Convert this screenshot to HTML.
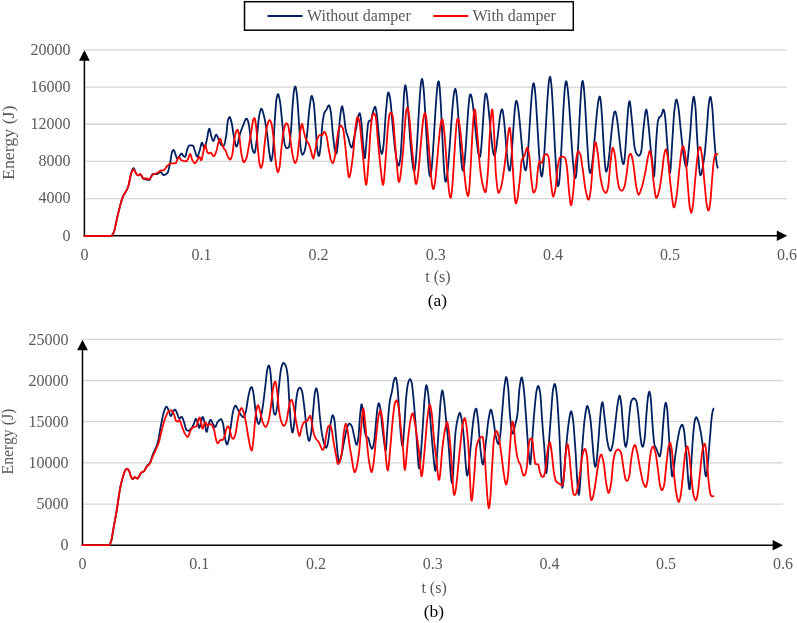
<!DOCTYPE html>
<html lang="en"><head><meta charset="utf-8"><title>Energy vs time</title>
<style>html,body{margin:0;padding:0;background:#fff;overflow:hidden}svg{display:block}text{font-family:"Liberation Serif","Times New Roman",serif;fill:#595959}.t{font-size:16px}.ax{font-size:16px}.cap{font-size:17.4px;fill:#000}.c{fill:none;stroke-width:1.8;stroke-linejoin:round;stroke-linecap:butt}</style></head><body>
<svg width="797" height="623" viewBox="0 0 797 623">
<rect width="797" height="623" fill="#fff"/>
<line x1="84.4" y1="49.90" x2="786.9" y2="49.90" stroke="#d5d5d5" stroke-width="1.3"/>
<line x1="84.4" y1="87.07" x2="786.9" y2="87.07" stroke="#d5d5d5" stroke-width="1.3"/>
<line x1="84.4" y1="124.24" x2="786.9" y2="124.24" stroke="#d5d5d5" stroke-width="1.3"/>
<line x1="84.4" y1="161.41" x2="786.9" y2="161.41" stroke="#d5d5d5" stroke-width="1.3"/>
<line x1="84.4" y1="198.58" x2="786.9" y2="198.58" stroke="#d5d5d5" stroke-width="1.3"/>
<line x1="84.4" y1="55.9" x2="84.4" y2="236.35" stroke="#000" stroke-width="1.5"/>
<line x1="83.80000000000001" y1="235.75" x2="780.9" y2="235.75" stroke="#000" stroke-width="1.5"/>
<polygon points="84.4,50.199999999999996 79.0,60.8 89.80000000000001,60.8" fill="#000"/>
<polygon points="787.1999999999999,235.75 776.8,230.45 776.8,241.05" fill="#000"/>
<path class="c" stroke="#002060" d="M83.7,235.8 84.2,235.8 84.7,235.8 85.2,235.8 85.7,235.8 86.2,235.8 86.7,235.8 87.2,235.8 87.7,235.8 88.2,235.8 88.7,235.8 89.2,235.8 89.7,235.8 90.2,235.8 90.7,235.8 91.2,235.8 91.7,235.8 92.2,235.8 92.7,235.8 93.2,235.8 93.7,235.8 94.2,235.8 94.7,235.8 95.2,235.8 95.7,235.8 96.2,235.8 96.7,235.8 97.2,235.8 97.7,235.8 98.2,235.8 98.7,235.8 99.2,235.8 99.7,235.8 100.2,235.8 100.7,235.8 101.2,235.8 101.7,235.8 102.2,235.8 102.7,235.8 103.2,235.8 103.7,235.8 104.2,235.8 104.7,235.8 105.2,235.8 105.7,235.8 106.2,235.8 106.7,235.8 107.2,235.8 107.7,235.8 108.2,235.8 108.7,235.8 109.2,235.8 109.7,235.8 110.2,235.8 110.7,235.8 111.2,235.8 111.7,235.6 112.2,235.1 112.7,234.3 113.2,233.3 113.7,232.3 114.2,231.0 114.7,229.2 115.2,227.1 115.7,224.8 116.2,222.3 116.7,219.9 117.2,217.5 117.7,215.4 118.2,213.4 118.7,211.4 119.2,209.4 119.7,207.4 120.2,205.4 120.7,203.5 121.2,201.8 121.7,200.1 122.2,198.6 122.7,197.3 123.2,196.1 123.7,195.1 124.2,194.2 124.7,193.4 125.2,192.6 125.7,191.7 126.2,190.9 126.7,190.0 127.2,189.0 127.7,187.8 128.2,186.5 128.7,184.8 129.2,182.5 129.7,180.0 130.2,177.4 130.7,175.1 131.2,173.1 131.7,171.6 132.2,170.2 132.7,169.0 133.2,168.2 133.7,168.2 134.2,168.9 134.7,170.1 135.2,171.5 135.7,172.8 136.2,173.7 136.7,174.3 137.2,174.8 137.7,175.2 138.2,175.3 138.7,175.1 139.2,174.7 139.7,174.4 140.2,174.2 140.7,174.5 141.2,175.2 141.7,176.1 142.2,177.2 142.7,178.1 143.2,178.7 143.7,178.9 144.2,179.0 144.7,179.2 145.2,179.3 145.7,179.3 146.2,179.4 146.7,179.5 147.2,179.7 147.7,179.8 148.2,179.9 148.7,180.0 149.2,180.0 149.7,179.5 150.2,178.7 150.7,177.7 151.2,176.6 151.7,175.5 152.2,174.6 152.7,174.1 153.2,174.0 153.7,174.0 154.2,174.0 154.7,174.0 155.2,174.0 155.7,174.0 156.2,174.0 156.7,174.0 157.2,174.0 157.7,173.8 158.2,173.4 158.7,173.0 159.2,172.5 159.7,172.2 160.2,172.0 160.7,172.1 161.2,172.6 161.7,173.2 162.2,173.9 162.7,174.5 163.2,174.9 163.7,175.0 164.2,174.9 164.7,174.8 165.2,174.6 165.7,174.3 166.2,174.0 166.7,173.6 167.2,173.2 167.7,172.6 168.2,171.4 168.7,169.5 169.2,167.3 169.7,165.0 170.2,162.6 170.7,159.5 171.2,156.1 171.7,153.2 172.2,151.4 172.7,150.6 173.2,150.1 173.7,150.0 174.2,150.7 174.7,152.1 175.2,153.6 175.7,154.9 176.2,156.6 176.7,158.0 177.2,158.5 177.7,158.2 178.2,157.7 178.7,157.1 179.2,156.4 179.7,155.7 180.2,154.9 180.7,154.2 181.2,153.7 181.7,153.7 182.2,154.2 182.7,155.0 183.2,155.7 183.7,156.2 184.2,156.5 184.7,156.8 185.2,156.9 185.7,155.8 186.2,153.7 186.7,151.4 187.2,149.6 187.7,148.2 188.2,146.9 188.7,145.9 189.2,145.6 189.7,145.5 190.2,145.5 190.7,145.4 191.2,145.4 191.7,145.4 192.2,145.5 192.7,145.6 193.2,145.8 193.7,146.7 194.2,148.5 194.7,150.3 195.2,151.8 195.7,153.5 196.2,155.1 196.7,156.2 197.2,156.7 197.7,156.3 198.2,155.1 198.7,153.5 199.2,151.9 199.7,150.3 200.2,148.4 200.7,146.2 201.2,144.2 201.7,142.8 202.2,142.7 202.7,143.8 203.2,145.4 203.7,147.0 204.2,148.1 204.7,148.0 205.2,146.8 205.7,144.8 206.2,142.5 206.7,140.2 207.2,138.0 207.7,135.2 208.2,132.2 208.7,129.8 209.2,128.6 209.7,129.1 210.2,131.0 210.7,133.5 211.2,136.0 211.7,137.8 212.2,139.2 212.7,140.3 213.2,141.0 213.7,140.7 214.2,139.5 214.7,138.0 215.2,136.4 215.7,135.1 216.2,134.6 216.7,135.0 217.2,135.9 217.7,137.1 218.2,138.5 218.7,139.8 219.2,140.9 219.7,142.1 220.2,143.3 220.7,144.3 221.2,144.9 221.7,145.2 222.2,145.5 222.7,145.6 223.2,145.8 223.7,145.8 224.2,145.2 224.7,143.5 225.2,141.2 225.7,138.4 226.2,135.6 226.7,131.3 227.2,126.0 227.7,121.6 228.2,119.5 228.7,118.1 229.2,117.2 229.7,116.9 230.2,117.7 230.7,119.2 231.2,121.2 231.7,123.3 232.2,125.8 232.7,129.0 233.2,132.5 233.7,135.7 234.2,138.3 234.7,140.7 235.2,143.1 235.7,145.1 236.2,146.4 236.7,146.5 237.2,145.6 237.7,143.9 238.2,141.7 238.7,139.3 239.2,136.9 239.7,134.9 240.2,133.4 240.7,131.9 241.2,130.4 241.7,129.0 242.2,127.7 242.7,126.4 243.2,125.2 243.7,123.9 244.2,122.5 244.7,121.2 245.2,120.0 245.7,119.1 246.2,118.6 246.7,118.6 247.2,119.2 247.7,120.4 248.2,121.9 248.7,123.7 249.2,126.6 249.7,130.5 250.2,134.9 250.7,139.0 251.2,142.2 251.7,145.2 252.2,148.0 252.7,150.1 253.2,151.3 253.7,152.3 254.2,152.9 254.7,152.8 255.2,151.0 255.7,147.9 256.2,144.0 256.7,140.2 257.2,135.4 257.7,129.5 258.2,123.7 258.7,118.9 259.2,115.9 259.7,113.4 260.2,111.2 260.7,109.6 261.2,108.7 261.7,108.8 262.2,109.7 262.7,111.2 263.2,113.0 263.7,114.9 264.2,116.9 264.7,119.2 265.2,121.8 265.7,124.7 266.2,127.8 266.7,131.0 267.2,134.4 267.7,138.6 268.2,143.2 268.7,147.8 269.2,151.8 269.7,155.0 270.2,158.0 270.7,160.4 271.2,161.1 271.7,159.8 272.2,157.1 272.7,153.8 273.2,148.2 273.7,139.6 274.2,130.1 274.7,121.5 275.2,114.4 275.7,107.4 276.2,101.4 276.7,97.7 277.2,95.7 277.7,94.4 278.2,94.2 278.7,95.4 279.2,97.4 279.7,99.9 280.2,102.7 280.7,106.9 281.2,112.0 281.7,117.3 282.2,122.4 282.7,127.2 283.2,132.4 283.7,137.5 284.2,141.6 284.7,144.2 285.2,145.7 285.7,146.9 286.2,147.8 286.7,148.2 287.2,148.2 287.7,148.0 288.2,147.7 288.7,147.4 289.2,146.0 289.7,142.9 290.2,138.7 290.7,134.0 291.2,128.1 291.7,119.9 292.2,111.3 292.7,104.1 293.2,98.2 293.7,92.9 294.2,89.2 294.7,87.4 295.2,86.4 295.7,87.1 296.2,89.6 296.7,92.8 297.2,97.4 297.7,103.9 298.2,111.3 298.7,118.7 299.2,126.3 299.7,134.9 300.2,142.9 300.7,148.4 301.2,151.1 301.7,153.3 302.2,154.5 302.7,154.5 303.2,154.0 303.7,153.2 304.2,152.0 304.7,150.7 305.2,148.8 305.7,145.7 306.2,141.7 306.7,137.3 307.2,132.8 307.7,127.8 308.2,121.9 308.7,115.9 309.2,110.5 309.7,106.4 310.2,102.7 310.7,99.3 311.2,96.9 311.7,95.9 312.2,96.5 312.7,98.0 313.2,100.3 313.7,102.9 314.2,107.4 314.7,113.8 315.2,121.0 315.7,128.0 316.2,135.7 316.7,143.8 317.2,149.7 317.7,152.6 318.2,154.8 318.7,156.0 319.2,155.6 319.7,153.1 320.2,149.5 320.7,145.4 321.2,139.4 321.7,132.4 322.2,126.0 322.7,121.7 323.2,118.3 323.7,115.4 324.2,113.3 324.7,112.1 325.2,111.2 325.7,110.6 326.2,110.0 326.7,109.1 327.2,108.0 327.7,106.9 328.2,105.8 328.7,105.3 329.2,105.4 329.7,106.7 330.2,108.8 330.7,111.4 331.2,114.9 331.7,120.3 332.2,126.6 332.7,132.5 333.2,137.1 333.7,141.6 334.2,145.8 334.7,149.0 335.2,151.1 335.7,152.8 336.2,153.7 336.7,152.7 337.2,149.5 337.7,145.6 338.2,140.4 338.7,133.6 339.2,126.5 339.7,120.8 340.2,116.6 340.7,112.6 341.2,109.2 341.7,106.9 342.2,106.3 342.7,107.8 343.2,110.5 343.7,113.5 344.2,117.2 344.7,121.8 345.2,126.3 345.7,129.6 346.2,131.7 346.7,133.4 347.2,134.8 347.7,136.2 348.2,137.6 348.7,139.3 349.2,141.2 349.7,143.2 350.2,145.0 350.7,146.4 351.2,147.3 351.7,147.6 352.2,146.6 352.7,144.6 353.2,142.1 353.7,139.6 354.2,137.5 354.7,135.3 355.2,133.0 355.7,130.6 356.2,128.0 356.7,124.9 357.2,121.5 357.7,118.4 358.2,116.4 358.7,114.9 359.2,113.7 359.7,113.2 360.2,114.3 360.7,117.1 361.2,120.8 361.7,125.7 362.2,132.9 362.7,140.1 363.2,145.6 363.7,151.2 364.2,155.9 364.7,158.2 365.2,156.3 365.7,150.4 366.2,144.5 366.7,138.5 367.2,132.0 367.7,126.5 368.2,123.2 368.7,121.6 369.2,120.8 369.7,120.6 370.2,120.6 370.7,120.5 371.2,119.9 371.7,117.9 372.2,115.4 372.7,113.0 373.2,111.3 373.7,109.6 374.2,108.1 374.7,107.1 375.2,106.8 375.7,108.1 376.2,110.6 376.7,113.5 377.2,117.5 377.7,123.0 378.2,129.0 378.7,134.4 379.2,139.5 379.7,144.5 380.2,148.3 380.7,150.7 381.2,152.7 381.7,153.9 382.2,153.6 382.7,151.3 383.2,147.8 383.7,143.8 384.2,137.6 384.7,129.6 385.2,121.4 385.7,114.2 386.2,108.7 386.7,103.1 387.2,98.1 387.7,94.2 388.2,92.4 388.7,92.7 389.2,94.2 389.7,96.5 390.2,99.1 390.7,102.9 391.2,108.4 391.7,114.5 392.2,120.4 392.7,125.7 393.2,131.1 393.7,136.3 394.2,141.2 394.7,145.6 395.2,149.6 395.7,153.5 396.2,157.1 396.7,160.0 397.2,162.1 397.7,163.8 398.2,165.2 398.7,165.7 399.2,164.8 399.7,162.4 400.2,159.2 400.7,154.7 401.2,147.5 401.7,138.6 402.2,129.0 402.7,119.9 403.2,110.1 403.7,99.8 404.2,92.1 404.7,87.7 405.2,85.2 405.7,86.0 406.2,88.9 406.7,92.7 407.2,97.5 407.7,104.1 408.2,111.3 408.7,118.5 409.2,125.5 409.7,133.0 410.2,140.2 410.7,146.2 411.2,151.1 411.7,156.0 412.2,160.7 412.7,164.8 413.2,168.2 413.7,170.4 414.2,171.2 414.7,170.1 415.2,167.0 415.7,162.3 416.2,156.1 416.7,148.8 417.2,140.7 417.7,132.1 418.2,123.2 418.7,114.4 419.2,106.0 419.7,98.2 420.2,91.3 420.7,85.6 421.2,81.5 421.7,79.2 422.2,79.0 422.7,80.9 423.2,84.6 423.7,89.9 424.2,96.5 424.7,104.1 425.2,112.5 425.7,121.3 426.2,130.4 426.7,139.3 427.2,147.9 427.7,155.9 428.2,162.9 428.7,168.8 429.2,173.1 429.7,175.8 430.2,176.5 430.7,175.1 431.2,172.1 431.7,167.6 432.2,161.9 432.7,155.2 433.2,147.7 433.7,139.7 434.2,131.4 434.7,123.0 435.2,114.7 435.7,106.9 436.2,99.7 436.7,93.4 437.2,88.1 437.7,84.2 438.2,81.8 438.7,81.3 439.2,83.3 439.7,87.9 440.2,94.6 440.7,102.9 441.2,112.5 441.7,122.9 442.2,133.6 442.7,144.2 443.2,154.4 443.7,163.5 444.2,171.2 444.7,177.1 445.2,180.8 445.7,181.7 446.2,180.7 446.7,178.4 447.2,175.0 447.7,170.5 448.2,165.3 448.7,159.3 449.2,152.8 449.7,146.0 450.2,138.9 450.7,131.7 451.2,124.6 451.7,117.8 452.2,111.3 452.7,105.3 453.2,100.1 453.7,95.6 454.2,92.2 454.7,89.9 455.2,88.9 455.7,89.5 456.2,92.0 456.7,96.0 457.2,101.4 457.7,107.8 458.2,115.0 458.7,122.7 459.2,130.7 459.7,138.6 460.2,146.3 460.7,153.3 461.2,159.6 461.7,164.7 462.2,168.4 462.7,170.5 463.2,170.7 463.7,169.0 464.2,165.5 464.7,160.6 465.2,154.6 465.7,147.7 466.2,140.2 466.7,132.5 467.2,124.8 467.7,117.3 468.2,110.4 468.7,104.4 469.2,99.5 469.7,96.0 470.2,94.3 470.7,94.3 471.2,95.4 471.7,97.4 472.2,100.2 472.7,103.6 473.2,107.6 473.7,112.0 474.2,116.7 474.7,121.7 475.2,126.7 475.7,131.7 476.2,136.6 476.7,141.2 477.2,145.5 477.7,149.2 478.2,152.4 478.7,154.9 479.2,156.6 479.7,157.3 480.2,156.5 480.7,153.4 481.2,148.5 481.7,142.1 482.2,134.8 482.7,126.9 483.2,118.9 483.7,111.3 484.2,104.5 484.7,99.0 485.2,95.1 485.7,93.4 486.2,93.7 486.7,95.2 487.2,97.8 487.7,101.2 488.2,105.4 488.7,110.1 489.2,115.2 489.7,120.5 490.2,126.0 490.7,131.4 491.2,136.6 491.7,141.5 492.2,145.9 492.7,149.6 493.2,152.5 493.7,154.5 494.2,155.4 494.7,155.0 495.2,153.7 495.7,151.4 496.2,148.4 496.7,144.8 497.2,140.7 497.7,136.4 498.2,131.9 498.7,127.4 499.2,123.2 499.7,119.2 500.2,115.7 500.7,112.8 501.2,110.7 501.7,109.5 502.2,109.4 502.7,110.8 503.2,113.5 503.7,117.4 504.2,122.1 504.7,127.5 505.2,133.4 505.7,139.5 506.2,145.6 506.7,151.6 507.2,157.1 507.7,162.0 508.2,166.0 508.7,168.9 509.2,170.6 509.7,170.7 510.2,168.8 510.7,165.1 511.2,159.9 511.7,153.6 512.2,146.5 512.7,138.9 513.2,131.2 513.7,123.7 514.2,116.7 514.7,110.6 515.2,105.7 515.7,102.3 516.2,100.8 516.7,101.2 517.2,102.6 517.7,105.1 518.2,108.3 518.7,112.3 519.2,116.9 519.7,121.9 520.2,127.3 520.7,132.8 521.2,138.4 521.7,143.9 522.2,149.3 522.7,154.3 523.2,158.9 523.7,162.9 524.2,166.1 524.7,168.6 525.2,170.0 525.7,170.4 526.2,169.0 526.7,165.9 527.2,161.3 527.7,155.5 528.2,148.8 528.7,141.3 529.2,133.3 529.7,125.2 530.2,117.1 530.7,109.3 531.2,102.0 531.7,95.6 532.2,90.3 532.7,86.3 533.2,83.8 533.7,83.2 534.2,84.7 534.7,87.9 535.2,92.7 535.7,98.8 536.2,105.9 536.7,113.7 537.2,122.1 537.7,130.7 538.2,139.3 538.7,147.6 539.2,155.3 539.7,162.2 540.2,168.1 540.7,172.6 541.2,175.5 541.7,176.5 542.2,175.5 542.7,172.5 543.2,167.9 543.7,161.9 544.2,154.8 544.7,146.8 545.2,138.2 545.7,129.3 546.2,120.3 546.7,111.5 547.2,103.1 547.7,95.4 548.2,88.7 548.7,83.3 549.2,79.3 549.7,77.1 550.2,76.9 550.7,79.0 551.2,83.0 551.7,88.9 552.2,96.1 552.7,104.5 553.2,113.7 553.7,123.5 554.2,133.5 554.7,143.4 555.2,153.0 555.7,161.9 556.2,169.8 556.7,176.5 557.2,181.7 557.7,185.0 558.2,186.2 558.7,185.0 559.2,181.6 559.7,176.3 560.2,169.4 560.7,161.3 561.2,152.3 561.7,142.6 562.2,132.7 562.7,122.8 563.2,113.3 563.7,104.4 564.2,96.5 564.7,89.9 565.2,85.0 565.7,82.0 566.2,81.2 566.7,82.4 567.2,85.0 567.7,88.8 568.2,93.8 568.7,99.7 569.2,106.3 569.7,113.6 570.2,121.1 570.7,128.9 571.2,136.7 571.7,144.4 572.2,151.7 572.7,158.4 573.2,164.5 573.7,169.7 574.2,173.8 574.7,176.6 575.2,178.1 575.7,177.7 576.2,174.9 576.7,169.8 577.2,163.0 577.7,154.8 578.2,145.5 578.7,135.6 579.2,125.5 579.7,115.5 580.2,106.1 580.7,97.7 581.2,90.5 581.7,85.1 582.2,81.8 582.7,80.9 583.2,82.6 583.7,86.3 584.2,91.7 584.7,98.5 585.2,106.4 585.7,115.1 586.2,124.2 586.7,133.4 587.2,142.3 587.7,150.7 588.2,158.3 588.7,164.6 589.2,169.3 589.7,172.2 590.2,173.0 590.7,172.2 591.2,170.3 591.7,167.4 592.2,163.8 592.7,159.5 593.2,154.6 593.7,149.2 594.2,143.6 594.7,137.7 595.2,131.8 595.7,125.9 596.2,120.3 596.7,114.9 597.2,110.0 597.7,105.7 598.2,102.1 598.7,99.2 599.2,97.3 599.7,96.5 600.2,97.3 600.7,100.5 601.2,105.7 601.7,112.4 602.2,120.3 602.7,128.8 603.2,137.6 603.7,146.2 604.2,154.3 604.7,161.2 605.2,166.8 605.7,170.4 606.2,171.7 606.7,171.1 607.2,169.5 607.7,167.0 608.2,163.8 608.7,159.8 609.2,155.4 609.7,150.6 610.2,145.6 610.7,140.5 611.2,135.4 611.7,130.4 612.2,125.8 612.7,121.5 613.2,117.8 613.7,114.9 614.2,112.7 614.7,111.5 615.2,111.4 615.7,112.3 616.2,114.2 616.7,116.8 617.2,120.1 617.7,123.9 618.2,128.1 618.7,132.6 619.2,137.3 619.7,141.9 620.2,146.5 620.7,150.8 621.2,154.7 621.7,158.1 622.2,160.9 622.7,162.9 623.2,164.0 623.7,164.0 624.2,161.8 624.7,157.6 625.2,151.9 625.7,145.0 626.2,137.4 626.7,129.5 627.2,121.8 627.7,114.7 628.2,108.7 628.7,104.2 629.2,101.6 629.7,101.3 630.2,103.6 630.7,107.6 631.2,112.8 631.7,118.2 632.2,123.2 632.7,128.3 633.2,134.1 633.7,139.8 634.2,144.6 634.7,147.7 635.2,149.9 635.7,151.6 636.2,153.0 636.7,153.8 637.2,154.5 637.7,155.0 638.2,155.4 638.7,155.7 639.2,155.7 639.7,155.2 640.2,154.3 640.7,153.1 641.2,151.6 641.7,148.2 642.2,142.7 642.7,136.5 643.2,130.8 643.7,126.4 644.2,122.0 644.7,117.6 645.2,113.7 645.7,110.9 646.2,109.5 646.7,110.3 647.2,113.1 647.7,117.3 648.2,122.2 648.7,127.1 649.2,132.0 649.7,137.7 650.2,143.5 650.7,148.8 651.2,153.3 651.7,157.4 652.2,161.4 652.7,165.9 653.2,172.0 653.7,176.8 654.2,176.2 654.7,169.8 655.2,160.1 655.7,149.5 656.2,140.6 656.7,133.9 657.2,127.5 657.7,122.7 658.2,120.2 658.7,118.5 659.2,117.5 659.7,117.0 660.2,116.6 660.7,116.3 661.2,115.8 661.7,114.5 662.2,112.7 662.7,110.9 663.2,109.7 663.7,109.7 664.2,111.3 664.7,114.1 665.2,117.4 665.7,122.7 666.2,129.7 666.7,137.1 667.2,143.6 667.7,150.5 668.2,157.8 668.7,164.6 669.2,170.0 669.7,173.0 670.2,172.4 670.7,167.5 671.2,159.8 671.7,150.8 672.2,142.2 672.7,134.7 673.2,126.5 673.7,118.5 674.2,112.1 674.7,107.9 675.2,104.2 675.7,101.2 676.2,99.6 676.7,99.7 677.2,101.3 677.7,103.7 678.2,106.5 678.7,109.7 679.2,114.0 679.7,119.0 680.2,124.3 680.7,129.5 681.2,134.4 681.7,139.1 682.2,143.9 682.7,148.5 683.2,152.6 683.7,155.9 684.2,158.9 684.7,161.8 685.2,164.3 685.7,166.1 686.2,166.7 686.7,165.8 687.2,163.5 687.7,159.9 688.2,155.3 688.7,150.2 689.2,144.7 689.7,139.2 690.2,133.7 690.7,126.6 691.2,118.7 691.7,111.5 692.2,106.2 692.7,101.8 693.2,98.2 693.7,96.7 694.2,97.9 694.7,100.8 695.2,104.7 695.7,110.5 696.2,119.9 696.7,130.4 697.2,139.2 697.7,146.6 698.2,154.2 698.7,161.5 699.2,167.8 699.7,172.6 700.2,175.1 700.7,175.1 701.2,174.2 701.7,172.5 702.2,170.3 702.7,167.5 703.2,164.3 703.7,161.0 704.2,157.4 704.7,153.8 705.2,148.9 705.7,143.1 706.2,136.8 706.7,130.4 707.2,124.1 707.7,116.8 708.2,109.9 708.7,104.6 709.2,101.3 709.7,98.5 710.2,96.9 710.7,97.1 711.2,99.4 711.7,103.0 712.2,107.1 712.7,113.0 713.2,121.2 713.7,129.9 714.2,137.3 714.7,144.0 715.2,150.2 715.7,155.3 716.2,159.6 716.7,163.4 717.2,166.1 717.7,167.7 718.1,168.3"/>
<path class="c" stroke="#ff0000" d="M83.7,235.8 84.2,235.8 84.7,235.8 85.2,235.8 85.7,235.8 86.2,235.8 86.7,235.8 87.2,235.8 87.7,235.8 88.2,235.8 88.7,235.8 89.2,235.8 89.7,235.8 90.2,235.8 90.7,235.8 91.2,235.8 91.7,235.8 92.2,235.8 92.7,235.8 93.2,235.8 93.7,235.8 94.2,235.8 94.7,235.8 95.2,235.8 95.7,235.8 96.2,235.8 96.7,235.8 97.2,235.8 97.7,235.8 98.2,235.8 98.7,235.8 99.2,235.8 99.7,235.8 100.2,235.8 100.7,235.8 101.2,235.8 101.7,235.8 102.2,235.8 102.7,235.8 103.2,235.8 103.7,235.8 104.2,235.8 104.7,235.8 105.2,235.8 105.7,235.8 106.2,235.8 106.7,235.8 107.2,235.8 107.7,235.8 108.2,235.8 108.7,235.8 109.2,235.8 109.7,235.8 110.2,235.8 110.7,235.8 111.2,235.8 111.7,235.6 112.2,235.1 112.7,234.3 113.2,233.3 113.7,232.3 114.2,231.0 114.7,229.2 115.2,227.1 115.7,224.8 116.2,222.3 116.7,219.9 117.2,217.5 117.7,215.4 118.2,213.4 118.7,211.4 119.2,209.4 119.7,207.4 120.2,205.4 120.7,203.5 121.2,201.8 121.7,200.1 122.2,198.6 122.7,197.3 123.2,196.1 123.7,195.1 124.2,194.2 124.7,193.4 125.2,192.5 125.7,191.7 126.2,190.9 126.7,190.0 127.2,188.9 127.7,187.8 128.2,186.5 128.7,184.8 129.2,182.5 129.7,180.0 130.2,177.5 130.7,175.2 131.2,173.4 131.7,172.2 132.2,171.1 132.7,170.1 133.2,169.5 133.7,169.5 134.2,170.0 134.7,170.9 135.2,171.9 135.7,173.0 136.2,173.7 136.7,174.3 137.2,174.8 137.7,175.2 138.2,175.3 138.7,175.1 139.2,174.7 139.7,174.4 140.2,174.2 140.7,174.5 141.2,175.2 141.7,176.1 142.2,177.1 142.7,178.0 143.2,178.5 143.7,178.5 144.2,178.5 144.7,178.5 145.2,178.5 145.7,178.5 146.2,178.5 146.7,178.5 147.2,178.6 147.7,178.9 148.2,179.1 148.7,179.3 149.2,179.3 149.7,179.0 150.2,178.4 150.7,177.6 151.2,176.8 151.7,176.0 152.2,175.3 152.7,174.7 153.2,174.4 153.7,174.2 154.2,174.0 154.7,173.9 155.2,173.8 155.7,173.6 156.2,173.5 156.7,173.3 157.2,173.1 157.7,172.8 158.2,172.3 158.7,171.9 159.2,171.5 159.7,171.1 160.2,170.8 160.7,170.7 161.2,170.6 161.7,170.5 162.2,170.5 162.7,170.4 163.2,170.3 163.7,170.1 164.2,169.8 164.7,169.2 165.2,168.6 165.7,167.9 166.2,167.2 166.7,166.5 167.2,166.0 167.7,165.5 168.2,165.1 168.7,164.7 169.2,164.3 169.7,164.0 170.2,163.7 170.7,163.4 171.2,163.3 171.7,163.3 172.2,163.3 172.7,163.3 173.2,163.3 173.7,163.3 174.2,163.3 174.7,163.3 175.2,163.3 175.7,163.2 176.2,162.6 176.7,161.4 177.2,160.0 177.7,158.6 178.2,157.6 178.7,157.2 179.2,157.5 179.7,158.1 180.2,158.9 180.7,159.7 181.2,160.0 181.7,160.3 182.2,160.5 182.7,160.7 183.2,160.8 183.7,161.0 184.2,161.1 184.7,161.2 185.2,161.3 185.7,161.3 186.2,161.2 186.7,160.9 187.2,160.3 187.7,159.6 188.2,158.7 188.7,157.4 189.2,155.8 189.7,154.5 190.2,154.0 190.7,154.7 191.2,156.3 191.7,158.2 192.2,159.9 192.7,160.8 193.2,161.6 193.7,162.3 194.2,162.9 194.7,163.1 195.2,163.0 195.7,162.5 196.2,161.8 196.7,161.1 197.2,160.3 197.7,159.4 198.2,158.2 198.7,157.2 199.2,156.7 199.7,157.1 200.2,158.4 200.7,159.7 201.2,160.3 201.7,159.5 202.2,157.6 202.7,155.0 203.2,152.4 203.7,150.2 204.2,148.0 204.7,145.9 205.2,145.0 205.7,145.9 206.2,148.0 206.7,150.4 207.2,152.0 207.7,152.7 208.2,153.2 208.7,153.5 209.2,153.4 209.7,153.1 210.2,152.7 210.7,152.6 211.2,153.0 211.7,153.7 212.2,154.5 212.7,155.3 213.2,155.9 213.7,156.2 214.2,156.0 214.7,155.3 215.2,154.2 215.7,152.9 216.2,151.5 216.7,150.0 217.2,147.9 217.7,145.4 218.2,143.2 218.7,141.5 219.2,140.2 219.7,139.1 220.2,138.6 220.7,139.3 221.2,140.9 221.7,142.9 222.2,144.5 222.7,145.9 223.2,147.2 223.7,148.2 224.2,148.9 224.7,149.4 225.2,150.0 225.7,150.8 226.2,152.0 226.7,153.5 227.2,155.0 227.7,156.2 228.2,157.1 228.7,158.1 229.2,158.8 229.7,159.4 230.2,159.5 230.7,159.0 231.2,158.0 231.7,156.6 232.2,155.0 232.7,152.1 233.2,147.9 233.7,143.7 234.2,140.4 234.7,137.6 235.2,135.0 235.7,132.8 236.2,131.4 236.7,130.5 237.2,129.9 237.7,130.0 238.2,131.4 238.7,133.3 239.2,135.6 239.7,139.3 240.2,144.0 240.7,148.8 241.2,152.7 241.7,155.3 242.2,157.7 242.7,159.9 243.2,161.4 243.7,162.2 244.2,162.1 244.7,161.6 245.2,160.8 245.7,159.8 246.2,158.7 246.7,157.2 247.2,155.1 247.7,152.5 248.2,149.7 248.7,146.7 249.2,143.7 249.7,140.9 250.2,137.9 250.7,134.9 251.2,131.8 251.7,128.8 252.2,125.7 252.7,122.3 253.2,119.8 253.7,118.8 254.2,118.1 254.7,118.2 255.2,120.2 255.7,123.5 256.2,127.3 256.7,132.6 257.2,139.4 257.7,146.4 258.2,152.2 258.7,157.1 259.2,161.5 259.7,164.7 260.2,166.6 260.7,167.9 261.2,167.8 261.7,166.8 262.2,165.1 262.7,163.0 263.2,159.2 263.7,153.8 264.2,148.1 264.7,143.4 265.2,139.0 265.7,134.8 266.2,131.0 266.7,127.9 267.2,125.7 267.7,123.9 268.2,122.3 268.7,121.0 269.2,120.2 269.7,120.2 270.2,120.7 270.7,121.6 271.2,122.8 271.7,124.8 272.2,127.8 272.7,131.4 273.2,135.4 273.7,139.6 274.2,145.0 274.7,151.1 275.2,157.1 275.7,162.0 276.2,165.4 276.7,168.6 277.2,171.0 277.7,172.3 278.2,171.9 278.7,170.6 279.2,168.6 279.7,166.2 280.2,161.9 280.7,156.2 281.2,150.3 281.7,145.7 282.2,141.3 282.7,137.2 283.2,133.6 283.7,130.7 284.2,128.6 284.7,126.7 285.2,125.1 285.7,123.9 286.2,123.3 286.7,123.4 287.2,123.9 287.7,124.6 288.2,125.7 288.7,128.1 289.2,131.5 289.7,135.2 290.2,138.8 290.7,142.1 291.2,145.8 291.7,149.4 292.2,152.8 292.7,155.4 293.2,157.6 293.7,159.8 294.2,161.6 294.7,162.8 295.2,163.1 295.7,162.7 296.2,161.7 296.7,160.3 297.2,158.7 297.7,155.5 298.2,150.4 298.7,144.9 299.2,140.2 299.7,135.9 300.2,132.0 300.7,128.7 301.2,126.2 301.7,124.1 302.2,123.9 302.7,125.7 303.2,128.4 303.7,131.1 304.2,133.1 304.7,135.1 305.2,136.9 305.7,138.5 306.2,139.8 306.7,140.7 307.2,141.5 307.7,142.2 308.2,143.0 308.7,143.9 309.2,145.0 309.7,146.4 310.2,148.0 310.7,149.7 311.2,151.5 311.7,153.8 312.2,156.0 312.7,157.8 313.2,158.5 313.7,157.7 314.2,155.6 314.7,153.0 315.2,150.4 315.7,147.7 316.2,144.6 316.7,141.7 317.2,139.5 317.7,138.2 318.2,137.0 318.7,136.0 319.2,135.4 319.7,135.2 320.2,135.2 320.7,135.2 321.2,135.2 321.7,135.2 322.2,135.2 322.7,134.7 323.2,133.7 323.7,132.5 324.2,131.8 324.7,131.8 325.2,132.5 325.7,133.7 326.2,135.1 326.7,136.7 327.2,139.3 327.7,142.6 328.2,146.1 328.7,149.3 329.2,151.9 329.7,154.6 330.2,157.1 330.7,159.2 331.2,160.7 331.7,161.7 332.2,162.5 332.7,163.0 333.2,162.8 333.7,161.6 334.2,159.7 334.7,157.5 335.2,154.1 335.7,149.9 336.2,145.5 336.7,141.7 337.2,138.1 337.7,134.5 338.2,131.6 338.7,129.7 339.2,128.1 339.7,126.7 340.2,125.8 340.7,125.6 341.2,125.8 341.7,126.4 342.2,127.1 342.7,128.1 343.2,129.4 343.7,132.3 344.2,136.3 344.7,140.7 345.2,145.0 345.7,149.9 346.2,155.1 346.7,159.9 347.2,164.4 347.7,169.4 348.2,173.9 348.7,176.8 349.2,177.3 349.7,176.4 350.2,174.6 350.7,172.0 351.2,168.9 351.7,165.3 352.2,161.5 352.7,157.6 353.2,153.6 353.7,148.0 354.2,141.5 354.7,135.0 355.2,129.6 355.7,125.8 356.2,122.3 356.7,119.3 357.2,117.4 357.7,117.2 358.2,117.8 358.7,119.1 359.2,120.8 359.7,123.1 360.2,127.4 360.7,132.8 361.2,138.2 361.7,143.1 362.2,148.1 362.7,153.2 363.2,158.2 363.7,163.2 364.2,169.1 364.7,175.2 365.2,180.4 365.7,183.9 366.2,184.8 366.7,182.9 367.2,178.7 367.7,172.9 368.2,166.2 368.7,159.3 369.2,152.5 369.7,143.8 370.2,134.9 370.7,128.6 371.2,123.7 371.7,119.5 372.2,116.4 372.7,114.9 373.2,114.2 373.7,113.7 374.2,113.5 374.7,114.0 375.2,115.3 375.7,117.1 376.2,120.1 376.7,125.5 377.2,131.9 377.7,138.1 378.2,143.5 378.7,148.9 379.2,154.3 379.7,159.4 380.2,164.0 380.7,168.5 381.2,173.3 381.7,177.9 382.2,181.7 382.7,184.2 383.2,184.8 383.7,182.6 384.2,177.9 384.7,171.7 385.2,164.7 385.7,157.8 386.2,151.4 386.7,143.9 387.2,136.3 387.7,129.6 388.2,124.6 388.7,120.1 389.2,116.3 389.7,113.9 390.2,113.2 390.7,112.8 391.2,112.7 391.7,113.2 392.2,114.5 392.7,116.3 393.2,119.5 393.7,125.4 394.2,132.5 394.7,139.2 395.2,145.3 395.7,151.4 396.2,157.4 396.7,162.7 397.2,168.5 397.7,174.3 398.2,179.2 398.7,181.9 399.2,181.9 399.7,180.4 400.2,177.7 400.7,174.1 401.2,169.9 401.7,165.1 402.2,160.2 402.7,155.3 403.2,149.5 403.7,142.3 404.2,134.8 404.7,128.0 405.2,121.4 405.7,115.0 406.2,110.7 406.7,109.0 407.2,107.8 407.7,107.8 408.2,109.5 408.7,112.4 409.2,115.8 409.7,120.9 410.2,127.5 410.7,134.3 411.2,140.3 411.7,145.6 412.2,150.6 412.7,155.4 413.2,160.1 413.7,165.2 414.2,170.9 414.7,176.4 415.2,180.9 415.7,183.6 416.2,184.0 416.7,182.8 417.2,180.6 417.7,177.3 418.2,173.2 418.7,168.4 419.2,163.1 419.7,157.5 420.2,151.5 420.7,145.6 421.2,139.6 421.7,134.0 422.2,128.7 422.7,123.9 423.2,119.8 423.7,116.5 424.2,114.3 424.7,113.1 425.2,113.3 425.7,114.9 426.2,117.9 426.7,122.0 427.2,127.0 427.7,132.7 428.2,139.0 428.7,145.6 429.2,152.4 429.7,159.1 430.2,165.7 430.7,171.7 431.2,177.2 431.7,181.9 432.2,185.5 432.7,188.0 433.2,189.1 433.7,188.7 434.2,187.1 434.7,184.4 435.2,180.8 435.7,176.4 436.2,171.4 436.7,165.9 437.2,160.2 437.7,154.3 438.2,148.3 438.7,142.6 439.2,137.1 439.7,132.1 440.2,127.7 440.7,124.1 441.2,121.4 441.7,119.8 442.2,119.4 442.7,120.5 443.2,123.0 443.7,126.7 444.2,131.4 444.7,136.9 445.2,143.1 445.7,149.7 446.2,156.6 446.7,163.5 447.2,170.3 447.7,176.7 448.2,182.7 448.7,187.9 449.2,192.2 449.7,195.4 450.2,197.4 450.7,197.9 451.2,196.3 451.7,192.8 452.2,187.6 452.7,181.2 453.2,173.8 453.7,165.7 454.2,157.4 454.7,149.1 455.2,141.2 455.7,133.9 456.2,127.7 456.7,122.9 457.2,119.7 457.7,118.6 458.2,119.1 458.7,120.6 459.2,123.0 459.7,126.1 460.2,129.9 460.7,134.2 461.2,139.0 461.7,144.2 462.2,149.6 462.7,155.1 463.2,160.7 463.7,166.2 464.2,171.6 464.7,176.7 465.2,181.4 465.7,185.6 466.2,189.3 466.7,192.3 467.2,194.5 467.7,195.8 468.2,196.0 468.7,194.1 469.2,189.7 469.7,183.3 470.2,175.3 470.7,166.3 471.2,156.6 471.7,146.8 472.2,137.2 472.7,128.4 473.2,120.7 473.7,114.7 474.2,110.7 474.7,109.3 475.2,110.8 475.7,114.8 476.2,120.5 476.7,126.8 477.2,133.0 477.7,138.7 478.2,145.2 478.7,151.9 479.2,158.5 479.7,164.3 480.2,168.8 480.7,172.8 481.2,176.5 481.7,179.8 482.2,182.6 482.7,184.8 483.2,186.8 483.7,188.7 484.2,190.3 484.7,191.6 485.2,192.2 485.7,191.9 486.2,189.5 486.7,185.5 487.2,180.3 487.7,174.4 488.2,167.7 488.7,157.1 489.2,144.9 489.7,135.3 490.2,128.1 490.7,121.0 491.2,115.1 491.7,110.9 492.2,109.3 492.7,111.8 493.2,118.1 493.7,126.5 494.2,135.3 494.7,146.4 495.2,160.0 495.7,171.3 496.2,177.5 496.7,182.5 497.2,186.9 497.7,190.3 498.2,192.3 498.7,192.9 499.2,192.4 499.7,191.4 500.2,190.0 500.7,188.3 501.2,186.6 501.7,184.5 502.2,181.9 502.7,178.9 503.2,175.5 503.7,172.1 504.2,168.5 504.7,164.6 505.2,160.4 505.7,156.1 506.2,151.9 506.7,147.9 507.2,143.3 507.7,138.5 508.2,133.9 508.7,130.2 509.2,128.0 509.7,127.8 510.2,130.1 510.7,134.6 511.2,140.8 511.7,148.3 512.2,156.7 512.7,165.6 513.2,174.4 513.7,182.8 514.2,190.3 514.7,196.5 515.2,201.0 515.7,203.3 516.2,203.3 516.7,202.0 517.2,199.8 517.7,196.8 518.2,193.2 518.7,189.2 519.2,185.0 519.7,180.7 520.2,176.2 520.7,169.7 521.2,163.3 521.7,160.2 522.2,159.0 522.7,158.2 523.2,157.6 523.7,157.0 524.2,156.3 524.7,155.2 525.2,153.5 525.7,151.6 526.2,149.7 526.7,148.3 527.2,147.7 527.7,148.3 528.2,150.0 528.7,152.3 529.2,155.1 529.7,159.2 530.2,165.7 530.7,172.7 531.2,178.2 531.7,182.3 532.2,186.4 532.7,189.7 533.2,192.0 533.7,192.6 534.2,192.3 534.7,191.5 535.2,190.4 535.7,189.1 536.2,187.4 536.7,183.1 537.2,176.9 537.7,171.0 538.2,167.2 538.7,164.2 539.2,162.0 539.7,161.3 540.2,161.6 540.7,162.2 541.2,162.7 541.7,162.9 542.2,162.2 542.7,160.5 543.2,158.4 543.7,156.5 544.2,155.6 544.7,155.1 545.2,154.6 545.7,154.3 546.2,154.1 546.7,154.1 547.2,154.5 547.7,155.2 548.2,156.3 548.7,157.7 549.2,161.9 549.7,168.4 550.2,175.1 550.7,180.0 551.2,184.5 551.7,189.0 552.2,192.9 552.7,195.6 553.2,196.6 553.7,196.0 554.2,194.5 554.7,192.3 555.2,189.9 555.7,186.7 556.2,181.7 556.7,176.1 557.2,170.8 557.7,166.9 558.2,164.1 558.7,161.5 559.2,159.3 559.7,157.8 560.2,157.3 560.7,157.0 561.2,156.9 561.7,156.8 562.2,156.7 562.7,156.7 563.2,156.8 563.7,156.9 564.2,157.2 564.7,157.5 565.2,158.1 565.7,159.8 566.2,162.4 566.7,165.6 567.2,169.4 567.7,175.1 568.2,181.7 568.7,188.0 569.2,192.8 569.7,197.7 570.2,202.0 570.7,204.9 571.2,205.2 571.7,203.4 572.2,200.3 572.7,196.5 573.2,192.5 573.7,186.7 574.2,179.7 574.7,172.7 575.2,167.0 575.7,163.1 576.2,159.4 576.7,156.1 577.2,153.5 577.7,151.8 578.2,151.3 578.7,151.6 579.2,152.2 579.7,153.1 580.2,154.1 580.7,155.9 581.2,158.7 581.7,162.1 582.2,165.8 582.7,169.2 583.2,172.7 583.7,176.6 584.2,180.6 584.7,184.4 585.2,187.8 585.7,190.5 586.2,192.8 586.7,195.0 587.2,197.1 587.7,198.7 588.2,199.6 588.7,199.7 589.2,198.5 589.7,196.3 590.2,193.4 590.7,190.3 591.2,185.5 591.7,179.1 592.2,172.0 592.7,165.4 593.2,160.0 593.7,154.5 594.2,149.1 594.7,144.7 595.2,142.2 595.7,142.3 596.2,144.0 596.7,146.7 597.2,149.7 597.7,152.9 598.2,157.2 598.7,162.2 599.2,167.3 599.7,172.0 600.2,175.9 600.7,178.8 601.2,181.5 601.7,184.0 602.2,186.3 602.7,188.1 603.2,189.6 603.7,190.5 604.2,191.4 604.7,192.1 605.2,192.6 605.7,192.9 606.2,192.8 606.7,192.0 607.2,190.7 607.7,188.9 608.2,186.8 608.7,182.4 609.2,176.5 609.7,170.4 610.2,165.3 610.7,160.9 611.2,156.4 611.7,152.3 612.2,149.2 612.7,147.7 613.2,148.1 613.7,149.5 614.2,151.6 614.7,154.1 615.2,157.0 615.7,161.7 616.2,167.5 616.7,173.1 617.2,177.2 617.7,180.5 618.2,183.6 618.7,186.1 619.2,188.0 619.7,188.9 620.2,189.6 620.7,190.1 621.2,190.5 621.7,190.7 622.2,190.6 622.7,190.2 623.2,189.4 623.7,188.4 624.2,187.2 624.7,185.7 625.2,183.2 625.7,180.0 626.2,176.6 626.7,173.3 627.2,169.5 627.7,164.9 628.2,160.6 628.7,157.2 629.2,155.5 629.7,154.7 630.2,154.1 630.7,153.8 631.2,154.2 631.7,155.8 632.2,158.0 632.7,160.6 633.2,163.2 633.7,166.6 634.2,170.7 634.7,175.1 635.2,179.4 635.7,183.3 636.2,186.2 636.7,188.6 637.2,191.0 637.7,193.0 638.2,194.3 638.7,194.7 639.2,194.2 639.7,193.3 640.2,192.0 640.7,190.5 641.2,189.1 641.7,187.6 642.2,185.9 642.7,184.0 643.2,181.9 643.7,179.7 644.2,177.5 644.7,175.2 645.2,172.8 645.7,170.2 646.2,167.2 646.7,164.1 647.2,161.1 647.7,158.4 648.2,156.1 648.7,154.1 649.2,152.2 649.7,151.0 650.2,151.3 650.7,153.6 651.2,156.8 651.7,160.4 652.2,165.5 652.7,171.6 653.2,177.7 653.7,183.0 654.2,186.8 654.7,190.6 655.2,194.1 655.7,196.6 656.2,197.9 656.7,197.7 657.2,196.9 657.7,195.7 658.2,194.2 658.7,192.6 659.2,190.7 659.7,188.1 660.2,185.1 660.7,181.8 661.2,178.2 661.7,174.7 662.2,171.0 662.7,166.6 663.2,162.0 663.7,157.8 664.2,154.6 664.7,152.4 665.2,150.5 665.7,149.4 666.2,149.6 666.7,151.4 667.2,154.0 667.7,156.9 668.2,160.8 668.7,165.7 669.2,171.1 669.7,176.6 670.2,181.8 670.7,186.2 671.2,190.3 671.7,194.6 672.2,198.8 672.7,202.6 673.2,205.5 673.7,207.2 674.2,207.4 674.7,206.3 675.2,204.2 675.7,201.5 676.2,198.6 676.7,195.4 677.2,191.3 677.7,186.4 678.2,181.1 678.7,175.7 679.2,170.5 679.7,166.0 680.2,161.5 680.7,156.9 681.2,152.7 681.7,149.6 682.2,148.0 682.7,146.8 683.2,146.5 683.7,147.3 684.2,149.1 684.7,151.4 685.2,154.1 685.7,158.1 686.2,164.1 686.7,171.0 687.2,178.0 687.7,184.2 688.2,190.3 688.7,196.7 689.2,202.4 689.7,206.9 690.2,209.6 690.7,211.6 691.2,212.7 691.7,212.0 692.2,209.8 692.7,207.0 693.2,203.2 693.7,197.9 694.2,191.8 694.7,185.3 695.2,179.2 695.7,173.9 696.2,168.8 696.7,163.6 697.2,158.7 697.7,154.5 698.2,151.3 698.7,149.5 699.2,148.1 699.7,147.2 700.2,146.9 700.7,148.2 701.2,150.6 701.7,153.8 702.2,157.1 702.7,161.8 703.2,167.6 703.7,173.8 704.2,179.8 704.7,185.1 705.2,190.5 705.7,195.8 706.2,200.6 706.7,204.3 707.2,206.8 707.7,209.0 708.2,210.4 708.7,210.5 709.2,209.0 709.7,206.3 710.2,203.1 710.7,198.2 711.2,191.6 711.7,184.5 712.2,178.2 712.7,172.3 713.2,166.4 713.7,161.5 714.2,158.4 714.7,156.3 715.2,154.7 715.7,154.1 716.2,154.1 716.7,154.1 717.2,154.1 717.7,154.1 718.1,154.1"/>
<text class="t" x="70.6" y="54.7" text-anchor="end">20000</text>
<text class="t" x="70.6" y="91.9" text-anchor="end">16000</text>
<text class="t" x="70.6" y="129.0" text-anchor="end">12000</text>
<text class="t" x="70.6" y="166.2" text-anchor="end">8000</text>
<text class="t" x="70.6" y="203.4" text-anchor="end">4000</text>
<text class="t" x="70.6" y="240.6" text-anchor="end">0</text>
<text class="t" x="84.4" y="259.7" text-anchor="middle">0</text>
<text class="t" x="201.5" y="259.7" text-anchor="middle">0.1</text>
<text class="t" x="318.6" y="259.7" text-anchor="middle">0.2</text>
<text class="t" x="435.8" y="259.7" text-anchor="middle">0.3</text>
<text class="t" x="552.9" y="259.7" text-anchor="middle">0.4</text>
<text class="t" x="670.0" y="259.7" text-anchor="middle">0.5</text>
<text class="t" x="787.1" y="259.7" text-anchor="middle">0.6</text>
<text class="ax" x="437.9" y="282.0" text-anchor="middle">t (s)</text>
<text class="cap" x="437.4" y="305.6" text-anchor="middle">(a)</text>
<text class="ax" transform="translate(14.2,142.75) rotate(-90) scale(1.115,1)" text-anchor="middle">Energy (J)</text>
<line x1="82.5" y1="339.40" x2="782.7" y2="339.40" stroke="#d5d5d5" stroke-width="1.3"/>
<line x1="82.5" y1="380.56" x2="782.7" y2="380.56" stroke="#d5d5d5" stroke-width="1.3"/>
<line x1="82.5" y1="421.72" x2="782.7" y2="421.72" stroke="#d5d5d5" stroke-width="1.3"/>
<line x1="82.5" y1="462.88" x2="782.7" y2="462.88" stroke="#d5d5d5" stroke-width="1.3"/>
<line x1="82.5" y1="504.04" x2="782.7" y2="504.04" stroke="#d5d5d5" stroke-width="1.3"/>
<line x1="82.5" y1="345.4" x2="82.5" y2="545.8000000000001" stroke="#000" stroke-width="1.5"/>
<line x1="81.9" y1="545.2" x2="776.7" y2="545.2" stroke="#000" stroke-width="1.5"/>
<polygon points="82.5,339.7 77.1,350.29999999999995 87.9,350.29999999999995" fill="#000"/>
<polygon points="783.0,545.2 772.6,539.9000000000001 772.6,550.5" fill="#000"/>
<path class="c" stroke="#002060" d="M81.8,545.2 82.3,545.2 82.8,545.2 83.3,545.2 83.8,545.2 84.3,545.2 84.8,545.2 85.3,545.2 85.8,545.2 86.3,545.2 86.8,545.2 87.3,545.2 87.8,545.2 88.3,545.2 88.8,545.2 89.3,545.2 89.8,545.2 90.3,545.2 90.8,545.2 91.3,545.2 91.8,545.2 92.3,545.2 92.8,545.2 93.3,545.2 93.8,545.2 94.3,545.2 94.8,545.2 95.3,545.2 95.8,545.2 96.3,545.2 96.8,545.2 97.3,545.2 97.8,545.2 98.3,545.2 98.8,545.2 99.3,545.2 99.8,545.2 100.3,545.2 100.8,545.2 101.3,545.2 101.8,545.2 102.3,545.2 102.8,545.2 103.3,545.2 103.8,545.2 104.3,545.2 104.8,545.2 105.3,545.2 105.8,545.2 106.3,545.2 106.8,545.2 107.3,545.2 107.8,545.2 108.3,545.2 108.8,545.2 109.3,545.0 109.8,544.4 110.3,543.4 110.8,542.3 111.3,540.7 111.8,538.3 112.3,535.5 112.8,532.4 113.3,529.3 113.8,526.5 114.3,523.8 114.8,521.1 115.3,518.4 115.8,515.7 116.3,512.9 116.8,510.0 117.3,506.9 117.8,503.5 118.3,500.0 118.8,496.4 119.3,493.1 119.8,490.1 120.3,487.5 120.8,485.2 121.3,483.0 121.8,480.9 122.3,479.1 122.8,477.3 123.3,475.7 123.8,474.1 124.3,472.5 124.8,471.1 125.3,470.1 125.8,469.5 126.3,469.2 126.8,468.9 127.3,468.8 127.8,469.0 128.3,469.7 128.8,470.5 129.3,471.5 129.8,473.0 130.3,474.6 130.8,476.0 131.3,477.2 131.8,478.3 132.3,479.0 132.8,479.2 133.3,478.8 133.8,478.2 134.3,477.6 134.8,477.3 135.3,477.4 135.8,477.7 136.3,478.0 136.8,478.4 137.3,478.6 137.8,478.5 138.3,477.8 138.8,476.8 139.3,475.9 139.8,475.0 140.3,474.0 140.8,473.1 141.3,472.5 141.8,472.2 142.3,472.0 142.8,471.8 143.3,471.6 143.8,471.4 144.3,470.9 144.8,470.0 145.3,469.0 145.8,467.9 146.3,467.0 146.8,466.2 147.3,465.7 147.8,465.2 148.3,464.7 148.8,464.3 149.3,463.7 149.8,463.0 150.3,462.0 150.8,460.7 151.3,459.1 151.8,457.5 152.3,455.9 152.8,454.5 153.3,453.2 153.8,452.1 154.3,451.0 154.8,449.9 155.3,448.9 155.8,447.8 156.3,446.6 156.8,445.3 157.3,443.8 157.8,442.1 158.3,440.0 158.8,437.5 159.3,434.6 159.8,431.7 160.3,428.8 160.8,426.1 161.3,423.6 161.8,421.0 162.3,418.5 162.8,416.1 163.3,413.9 163.8,412.1 164.3,410.7 164.8,409.4 165.3,408.2 165.8,407.2 166.3,406.7 166.8,406.8 167.3,407.5 167.8,408.6 168.3,409.7 168.8,410.9 169.3,412.4 169.8,414.1 170.3,415.4 170.8,416.0 171.3,415.6 171.8,414.5 172.3,413.2 172.8,412.2 173.3,411.4 173.8,410.6 174.3,410.0 174.8,409.6 175.3,409.7 175.8,410.4 176.3,411.5 176.8,412.6 177.3,413.8 177.8,415.3 178.3,416.8 178.8,417.9 179.3,418.4 179.8,418.2 180.3,417.8 180.8,417.3 181.3,416.9 181.8,416.8 182.3,417.4 182.8,418.5 183.3,420.0 183.8,421.5 184.3,423.0 184.8,425.0 185.3,427.1 185.8,428.8 186.3,429.7 186.8,430.2 187.3,430.5 187.8,430.7 188.3,430.8 188.8,430.7 189.3,430.4 189.8,430.0 190.3,429.5 190.8,429.0 191.3,428.5 191.8,427.8 192.3,426.9 192.8,426.0 193.3,425.0 193.8,424.0 194.3,422.6 194.8,421.0 195.3,419.5 195.8,418.7 196.3,419.1 196.8,420.3 197.3,421.8 197.8,423.5 198.3,425.8 198.8,427.6 199.3,427.9 199.8,426.8 200.3,425.0 200.8,423.1 201.3,421.2 201.8,419.0 202.3,417.2 202.8,416.9 203.3,417.9 203.8,419.5 204.3,421.1 204.8,423.6 205.3,426.7 205.8,429.7 206.3,431.6 206.8,431.8 207.3,429.9 207.8,427.3 208.3,425.3 208.8,423.6 209.3,422.0 209.8,420.7 210.3,419.9 210.8,419.8 211.3,420.3 211.8,421.4 212.3,422.5 212.8,423.6 213.3,424.5 213.8,425.5 214.3,426.5 214.8,427.1 215.3,427.1 215.8,426.4 216.3,425.2 216.8,423.8 217.3,422.5 217.8,421.6 218.3,421.1 218.8,420.5 219.3,420.1 219.8,419.7 220.3,419.4 220.8,419.2 221.3,419.3 221.8,420.0 222.3,421.3 222.8,422.9 223.3,424.9 223.8,428.4 224.3,432.8 224.8,436.8 225.3,439.4 225.8,441.6 226.3,443.4 226.8,444.5 227.3,444.4 227.8,443.1 228.3,441.3 228.8,439.3 229.3,436.6 229.8,433.3 230.3,429.9 230.8,426.5 231.3,422.9 231.8,419.1 232.3,415.4 232.8,412.5 233.3,410.5 233.8,408.8 234.3,407.4 234.8,406.3 235.3,405.7 235.8,405.7 236.3,406.3 236.8,407.3 237.3,408.4 237.8,409.4 238.3,410.3 238.8,411.3 239.3,412.2 239.8,413.2 240.3,414.1 240.8,414.8 241.3,415.4 241.8,416.0 242.3,416.6 242.8,417.0 243.3,417.3 243.8,417.2 244.3,416.4 244.8,415.0 245.3,413.4 245.8,411.6 246.3,409.4 246.8,406.3 247.3,402.8 247.8,399.5 248.3,396.7 248.8,394.4 249.3,392.1 249.8,390.1 250.3,388.5 250.8,387.6 251.3,387.2 251.8,387.2 252.3,388.3 252.8,390.2 253.3,392.4 253.8,395.6 254.3,400.0 254.8,404.7 255.3,409.0 255.8,412.5 256.3,415.8 256.8,418.8 257.3,421.2 257.8,422.6 258.3,423.6 258.8,424.0 259.3,423.3 259.8,421.6 260.3,419.6 260.8,417.6 261.3,415.2 261.8,412.5 262.3,409.5 262.8,406.4 263.3,402.9 263.8,399.0 264.3,394.7 264.8,390.5 265.3,386.3 265.8,381.5 266.3,376.6 266.8,372.3 267.3,369.4 267.8,367.6 268.3,366.1 268.8,365.4 269.3,366.0 269.8,368.2 270.3,371.4 270.8,375.4 271.3,382.2 271.8,390.2 272.3,397.6 272.8,403.2 273.3,408.5 273.8,412.5 274.3,413.9 274.8,414.5 275.3,414.7 275.8,413.7 276.3,411.7 276.8,409.1 277.3,405.8 277.8,400.3 278.3,393.9 278.8,388.1 279.3,383.3 279.8,378.4 280.3,374.0 280.8,370.3 281.3,367.8 281.8,366.1 282.3,364.6 282.8,363.5 283.3,363.0 283.8,363.1 284.3,363.5 284.8,364.1 285.3,364.9 285.8,365.8 286.3,367.5 286.8,369.9 287.3,373.0 287.8,376.8 288.3,383.7 288.8,392.9 289.3,401.5 289.8,409.4 290.3,417.1 290.8,423.1 291.3,427.2 291.8,430.6 292.3,432.6 292.8,432.3 293.3,429.9 293.8,426.3 294.3,422.3 294.8,416.6 295.3,409.9 295.8,403.6 296.3,399.2 296.8,395.8 297.3,392.8 297.8,390.6 298.3,389.3 298.8,388.5 299.3,387.8 299.8,387.6 300.3,387.8 300.8,388.5 301.3,389.4 301.8,390.6 302.3,392.5 302.8,395.5 303.3,399.1 303.8,403.1 304.3,407.2 304.8,411.3 305.3,416.1 305.8,421.4 306.3,426.5 306.8,430.7 307.3,433.8 307.8,436.7 308.3,439.1 308.8,440.6 309.3,440.8 309.8,439.6 310.3,437.4 310.8,434.8 311.3,431.7 311.8,426.9 312.3,421.1 312.8,414.9 313.3,409.1 313.8,403.5 314.3,397.6 314.8,393.0 315.3,390.6 315.8,388.9 316.3,388.2 316.8,389.1 317.3,391.3 317.8,394.1 318.3,398.5 318.8,404.4 319.3,410.6 319.8,416.0 320.3,420.6 320.8,425.1 321.3,429.3 321.8,432.9 322.3,435.8 322.8,438.3 323.3,440.6 323.8,442.5 324.3,444.1 324.8,445.4 325.3,446.6 325.8,447.5 326.3,447.8 326.8,446.9 327.3,445.3 327.8,443.3 328.3,440.6 328.8,437.0 329.3,432.8 329.8,428.8 330.3,425.6 330.8,422.8 331.3,419.9 331.8,417.4 332.3,415.7 332.8,415.2 333.3,415.9 333.8,417.3 334.3,419.2 334.8,422.9 335.3,428.6 335.8,434.3 336.3,439.3 336.8,444.8 337.3,450.3 337.8,455.3 338.3,459.3 338.8,461.7 339.3,462.0 339.8,461.4 340.3,460.2 340.8,458.5 341.3,456.4 341.8,454.0 342.3,451.3 342.8,448.5 343.3,445.7 343.8,443.0 344.3,440.4 344.8,438.0 345.3,435.5 345.8,432.7 346.3,430.1 346.8,428.1 347.3,426.8 347.8,425.7 348.3,424.8 348.8,424.1 349.3,423.7 349.8,423.8 350.3,424.1 350.8,424.6 351.3,425.4 351.8,426.2 352.3,427.5 352.8,429.6 353.3,432.1 353.8,434.7 354.3,436.9 354.8,439.0 355.3,441.2 355.8,443.2 356.3,444.5 356.8,444.9 357.3,443.7 357.8,441.4 358.3,438.5 358.8,433.3 359.3,425.6 359.8,418.2 360.3,413.0 360.8,408.1 361.3,404.7 361.8,404.3 362.3,407.6 362.8,413.1 363.3,419.2 363.8,424.5 364.3,427.9 364.8,431.1 365.3,433.8 365.8,435.8 366.3,436.6 366.8,437.0 367.3,437.3 367.8,437.5 368.3,438.0 368.8,439.4 369.3,441.6 369.8,443.8 370.3,445.4 370.8,446.9 371.3,448.1 371.8,448.8 372.3,448.7 372.8,447.6 373.3,445.8 373.8,443.5 374.3,440.8 374.8,436.2 375.3,430.3 375.8,424.4 376.3,419.2 376.8,413.9 377.3,409.2 377.8,406.3 378.3,404.3 378.8,403.2 379.3,403.8 379.8,405.9 380.3,408.7 380.8,412.0 381.3,416.7 381.8,422.2 382.3,427.4 382.8,431.7 383.3,435.8 383.8,439.6 384.3,443.1 384.8,446.5 385.3,449.8 385.8,450.7 386.3,445.8 386.8,437.2 387.3,429.2 387.8,422.8 388.3,416.3 388.8,410.2 389.3,405.1 389.8,401.3 390.3,398.5 390.8,396.2 391.3,394.2 391.8,392.1 392.3,389.6 392.8,386.5 393.3,383.3 393.8,380.8 394.3,379.4 394.8,378.3 395.3,377.6 395.8,377.7 396.3,379.2 396.8,381.8 397.3,385.0 397.8,390.3 398.3,397.6 398.8,405.6 399.3,413.2 399.8,420.7 400.3,428.4 400.8,434.6 401.3,439.3 401.8,443.4 402.3,445.8 402.8,445.1 403.3,440.1 403.8,433.2 404.3,426.5 404.8,418.5 405.3,409.9 405.8,401.9 406.3,396.1 406.8,391.5 407.3,387.5 407.8,384.3 408.3,382.4 408.8,381.0 409.3,379.9 409.8,379.2 410.3,379.2 410.8,380.0 411.3,381.3 411.8,383.1 412.3,386.3 412.8,391.0 413.3,396.4 413.8,401.9 414.3,407.6 414.8,414.0 415.3,420.6 415.8,427.3 416.3,433.7 416.8,440.9 417.3,448.9 417.8,456.6 418.3,463.0 418.8,467.3 419.3,468.4 419.8,466.4 420.3,462.0 420.8,455.9 421.3,448.6 421.8,440.9 422.3,433.4 422.8,426.4 423.3,418.3 423.8,409.7 424.3,401.9 424.8,396.1 425.3,391.0 425.8,386.8 426.3,385.1 426.8,386.0 427.3,388.2 427.8,391.3 428.3,394.6 428.8,399.3 429.3,405.4 429.8,412.2 430.3,419.0 430.8,425.2 431.3,431.6 431.8,438.0 432.3,444.1 432.8,449.7 433.3,454.7 433.8,460.1 434.3,465.1 434.8,469.0 435.3,470.8 435.8,469.8 436.3,465.7 436.8,459.4 437.3,451.6 437.8,443.3 438.3,435.1 438.8,427.8 439.3,420.0 439.8,411.9 440.3,404.6 440.8,399.4 441.3,395.2 441.8,391.8 442.3,390.4 442.8,391.6 443.3,394.5 443.8,398.0 444.3,401.8 444.8,406.5 445.3,411.8 445.8,417.0 446.3,421.9 446.8,426.8 447.3,431.8 447.8,436.8 448.3,442.0 448.8,448.0 449.3,454.9 449.8,462.3 450.3,469.4 450.8,475.6 451.3,480.3 451.8,482.8 452.3,482.1 452.8,477.4 453.3,469.8 453.8,460.3 454.3,450.5 454.8,441.4 455.3,434.3 455.8,430.0 456.3,426.4 456.8,423.2 457.3,420.6 457.8,418.4 458.3,416.5 458.8,414.7 459.3,413.3 459.8,412.8 460.3,413.5 460.8,415.3 461.3,417.5 461.8,420.1 462.3,423.6 462.8,427.8 463.3,432.2 463.8,437.0 464.3,443.4 464.8,450.7 465.3,458.2 465.8,465.2 466.3,471.0 466.8,474.7 467.3,475.7 467.8,474.2 468.3,471.1 468.8,466.7 469.3,461.4 469.8,455.8 470.3,450.3 470.8,445.3 471.3,440.3 471.8,434.8 472.3,429.4 472.8,424.5 473.3,420.5 473.8,416.9 474.3,413.7 474.8,411.2 475.3,409.7 475.8,408.8 476.3,408.6 476.8,410.3 477.3,413.8 477.8,417.9 478.3,422.4 478.8,428.4 479.3,435.3 479.8,442.0 480.3,447.6 480.8,452.1 481.3,456.6 481.8,460.6 482.3,463.4 482.8,464.5 483.3,463.5 483.8,460.9 484.3,457.0 484.8,452.5 485.3,447.6 485.8,442.9 486.3,438.7 486.8,434.1 487.3,429.3 487.8,424.7 488.3,420.8 488.8,417.9 489.3,415.0 489.8,412.4 490.3,410.5 490.8,409.6 491.3,410.1 491.8,411.7 492.3,414.1 492.8,416.9 493.3,419.6 493.8,422.6 494.3,426.3 494.8,430.1 495.3,433.5 495.8,436.0 496.3,438.2 496.8,440.3 497.3,442.1 497.8,443.4 498.3,444.0 498.8,443.4 499.3,441.3 499.8,438.3 500.3,434.9 500.8,429.9 501.3,423.6 501.8,416.9 502.3,410.8 502.8,404.5 503.3,398.1 503.8,392.2 504.3,387.4 504.8,383.8 505.3,380.5 505.8,378.0 506.3,377.0 506.8,378.1 507.3,380.8 507.8,384.4 508.3,388.9 508.8,396.2 509.3,404.8 509.8,412.7 510.3,418.5 510.8,423.6 511.3,428.1 511.8,431.4 512.3,432.8 512.8,433.5 513.3,433.3 513.8,431.5 514.3,429.0 514.8,426.4 515.3,424.4 515.8,422.5 516.3,420.6 516.8,418.3 517.3,415.5 517.8,410.9 518.3,403.7 518.8,396.0 519.3,389.9 519.8,386.2 520.3,382.7 520.8,379.9 521.3,378.0 521.8,377.5 522.3,378.9 522.8,381.6 523.3,385.2 523.8,389.1 524.3,393.8 524.8,400.0 525.3,407.0 525.8,414.1 526.3,420.9 526.8,427.9 527.3,435.2 527.8,442.2 528.3,448.5 528.8,453.8 529.3,459.1 529.8,463.2 530.3,464.4 530.8,460.2 531.3,452.7 531.8,445.3 532.3,438.7 532.8,431.6 533.3,424.6 533.8,417.9 534.3,412.1 534.8,406.5 535.3,401.0 535.8,396.1 536.3,392.3 536.8,389.8 537.3,387.8 537.8,386.3 538.3,385.9 538.8,386.7 539.3,388.4 539.8,390.7 540.3,393.7 540.8,399.4 541.3,407.1 541.8,415.3 542.3,422.5 542.8,429.0 543.3,435.2 543.8,441.5 544.3,447.8 544.8,454.6 545.3,463.4 545.8,470.9 546.3,473.2 546.8,470.6 547.3,465.1 547.8,458.1 548.3,450.7 548.8,444.1 549.3,437.6 549.8,430.8 550.3,423.9 550.8,417.1 551.3,410.6 551.8,403.4 552.3,396.5 552.8,391.1 553.3,388.2 553.8,386.0 554.3,384.5 554.8,383.9 555.3,384.9 555.8,387.4 556.3,390.9 556.8,394.7 557.3,400.2 557.8,407.4 558.3,415.6 558.8,424.2 559.3,432.7 559.8,443.3 560.3,455.3 560.8,467.3 561.3,477.7 561.8,485.0 562.3,487.8 562.8,486.5 563.3,483.0 563.8,477.8 564.3,471.5 564.8,464.6 565.3,457.5 565.8,450.9 566.3,445.3 566.8,440.2 567.3,435.0 567.8,430.1 568.3,425.7 568.8,422.2 569.3,418.8 569.8,415.7 570.3,413.1 570.8,411.5 571.3,411.3 571.8,412.7 572.3,415.2 572.8,418.3 573.3,422.0 573.8,427.5 574.3,434.3 574.8,441.3 575.3,448.0 575.8,455.8 576.3,464.5 576.8,473.4 577.3,481.6 577.8,488.4 578.3,493.1 578.8,494.8 579.3,492.9 579.8,487.9 580.3,480.7 580.8,472.1 581.3,462.9 581.8,454.1 582.3,446.6 582.8,440.2 583.3,433.8 583.8,427.6 584.3,422.2 584.8,418.0 585.3,414.5 585.8,411.1 586.3,408.3 586.8,406.4 587.3,405.9 587.8,406.6 588.3,408.1 588.8,410.2 589.3,412.7 589.8,415.4 590.3,418.2 590.8,422.5 591.3,427.8 591.8,433.9 592.3,440.4 592.8,446.9 593.3,453.1 593.8,458.5 594.3,462.9 594.8,465.8 595.3,466.8 595.8,465.9 596.3,463.3 596.8,459.4 597.3,454.3 597.8,448.4 598.3,441.9 598.8,435.2 599.3,428.4 599.8,421.8 600.3,415.8 600.8,410.6 601.3,406.4 601.8,403.5 602.3,402.2 602.8,403.1 603.3,406.0 603.8,410.4 604.3,415.2 604.8,419.6 605.3,423.9 605.8,428.7 606.3,433.5 606.8,437.7 607.3,441.0 607.8,443.6 608.3,446.0 608.8,447.9 609.3,449.3 609.8,450.3 610.3,450.9 610.8,450.6 611.3,449.6 611.8,448.0 612.3,446.1 612.8,443.9 613.3,440.7 613.8,436.7 614.3,432.3 614.8,427.8 615.3,423.6 615.8,419.2 616.3,414.5 616.8,410.0 617.3,406.1 617.8,402.9 618.3,400.1 618.8,397.5 619.3,395.8 619.8,395.7 620.3,397.6 620.8,400.7 621.3,404.3 621.8,409.4 622.3,416.1 622.8,423.1 623.3,429.2 623.8,434.8 624.3,440.1 624.8,444.0 625.3,446.1 625.8,446.9 626.3,445.7 626.8,443.3 627.3,440.4 627.8,435.5 628.3,428.4 628.8,421.1 629.3,415.5 629.8,410.8 630.3,406.4 630.8,403.0 631.3,401.1 631.8,400.2 632.3,399.4 632.8,398.8 633.3,398.5 633.8,398.4 634.3,398.5 634.8,398.8 635.3,399.3 635.8,399.9 636.3,400.7 636.8,402.9 637.3,406.1 637.8,410.0 638.3,414.0 638.8,419.3 639.3,425.5 639.8,431.3 640.3,435.6 640.8,439.5 641.3,443.0 641.8,445.4 642.3,446.4 642.8,446.7 643.3,445.9 643.8,443.7 644.3,440.8 644.8,437.2 645.3,431.0 645.8,423.3 646.3,415.7 646.8,409.6 647.3,403.5 647.8,398.4 648.3,395.0 648.8,392.6 649.3,391.5 649.8,392.6 650.3,395.2 650.8,398.7 651.3,405.3 651.8,413.7 652.3,422.0 652.8,428.4 653.3,434.3 653.8,439.8 654.3,443.9 654.8,445.9 655.3,446.9 655.8,447.7 656.3,448.7 656.8,450.0 657.3,451.3 657.8,452.6 658.3,453.8 658.8,455.1 659.3,456.3 659.8,456.6 660.3,455.0 660.8,452.1 661.3,448.5 661.8,443.5 662.3,436.7 662.8,429.2 663.3,422.4 663.8,416.5 664.3,410.7 664.8,406.2 665.3,403.8 665.8,402.7 666.3,403.8 666.8,406.4 667.3,410.0 667.8,417.1 668.3,425.9 668.8,433.9 669.3,441.2 669.8,448.3 670.3,454.9 670.8,462.0 671.3,469.4 671.8,474.9 672.3,476.5 672.8,475.1 673.3,472.3 673.8,468.4 674.3,464.0 674.8,459.6 675.3,455.6 675.8,452.1 676.3,448.6 676.8,445.1 677.3,441.7 677.8,438.8 678.3,436.1 678.8,433.5 679.3,431.1 679.8,429.0 680.3,427.6 680.8,426.5 681.3,425.5 681.8,424.9 682.3,424.7 682.8,425.5 683.3,427.2 683.8,429.2 684.3,432.3 684.8,436.8 685.3,442.1 685.8,447.5 686.3,453.0 686.8,459.8 687.3,467.1 687.8,474.4 688.3,481.0 688.8,486.1 689.3,489.2 689.8,489.1 690.3,483.6 690.8,474.3 691.3,463.9 691.8,454.9 692.3,447.3 692.8,439.8 693.3,433.5 693.8,428.3 694.3,423.7 694.8,420.4 695.3,418.8 695.8,417.6 696.3,417.2 696.8,417.6 697.3,418.7 697.8,420.1 698.3,421.5 698.8,423.1 699.3,425.1 699.8,427.3 700.3,429.8 700.8,432.4 701.3,435.3 701.8,438.6 702.3,442.2 702.8,446.1 703.3,451.3 703.8,457.6 704.3,464.1 704.8,469.9 705.3,474.3 705.8,476.4 706.3,475.8 706.8,473.3 707.3,469.3 707.8,464.1 708.3,458.2 708.8,451.8 709.3,445.5 709.8,439.4 710.3,433.6 710.8,427.0 711.3,420.9 711.8,416.4 712.3,413.0 712.8,410.7 713.3,409.3 713.8,408.4 714.0,408.3"/>
<path class="c" stroke="#ff0000" d="M81.8,545.2 82.3,545.2 82.8,545.2 83.3,545.2 83.8,545.2 84.3,545.2 84.8,545.2 85.3,545.2 85.8,545.2 86.3,545.2 86.8,545.2 87.3,545.2 87.8,545.2 88.3,545.2 88.8,545.2 89.3,545.2 89.8,545.2 90.3,545.2 90.8,545.2 91.3,545.2 91.8,545.2 92.3,545.2 92.8,545.2 93.3,545.2 93.8,545.2 94.3,545.2 94.8,545.2 95.3,545.2 95.8,545.2 96.3,545.2 96.8,545.2 97.3,545.2 97.8,545.2 98.3,545.2 98.8,545.2 99.3,545.2 99.8,545.2 100.3,545.2 100.8,545.2 101.3,545.2 101.8,545.2 102.3,545.2 102.8,545.2 103.3,545.2 103.8,545.2 104.3,545.2 104.8,545.2 105.3,545.2 105.8,545.2 106.3,545.2 106.8,545.2 107.3,545.2 107.8,545.2 108.3,545.2 108.8,545.2 109.3,545.0 109.8,544.4 110.3,543.4 110.8,542.3 111.3,540.7 111.8,538.3 112.3,535.5 112.8,532.4 113.3,529.3 113.8,526.5 114.3,523.8 114.8,521.1 115.3,518.4 115.8,515.7 116.3,512.9 116.8,510.0 117.3,506.9 117.8,503.5 118.3,500.0 118.8,496.4 119.3,493.1 119.8,490.1 120.3,487.5 120.8,485.2 121.3,483.0 121.8,480.9 122.3,479.1 122.8,477.3 123.3,475.7 123.8,474.1 124.3,472.5 124.8,471.1 125.3,470.1 125.8,469.5 126.3,469.2 126.8,468.9 127.3,468.8 127.8,469.0 128.3,469.7 128.8,470.5 129.3,471.5 129.8,473.0 130.3,474.6 130.8,476.1 131.3,477.1 131.8,478.1 132.3,478.8 132.8,478.9 133.3,478.5 133.8,477.9 134.3,477.3 134.8,477.0 135.3,477.1 135.8,477.4 136.3,477.9 136.8,478.3 137.3,478.6 137.8,478.5 138.3,477.8 138.8,476.8 139.3,475.9 139.8,475.0 140.3,474.0 140.8,473.1 141.3,472.5 141.8,472.2 142.3,472.0 142.8,471.8 143.3,471.6 143.8,471.4 144.3,470.9 144.8,470.1 145.3,469.2 145.8,468.2 146.3,467.3 146.8,466.7 147.3,466.1 147.8,465.7 148.3,465.2 148.8,464.8 149.3,464.3 149.8,463.6 150.3,462.7 150.8,461.6 151.3,460.3 151.8,459.0 152.3,457.8 152.8,456.5 153.3,455.2 153.8,454.0 154.3,452.9 154.8,451.8 155.3,450.8 155.8,449.7 156.3,448.7 156.8,447.6 157.3,446.5 157.8,445.2 158.3,443.9 158.8,442.4 159.3,440.6 159.8,438.6 160.3,436.4 160.8,434.2 161.3,432.0 161.8,429.9 162.3,427.9 162.8,426.1 163.3,424.3 163.8,422.5 164.3,420.8 164.8,419.2 165.3,417.8 165.8,416.6 166.3,415.4 166.8,414.3 167.3,413.3 167.8,412.4 168.3,411.7 168.8,411.3 169.3,411.0 169.8,410.8 170.3,410.6 170.8,410.4 171.3,410.4 171.8,410.6 172.3,411.2 172.8,411.9 173.3,412.9 173.8,413.8 174.3,415.3 174.8,417.1 175.3,419.0 175.8,420.4 176.3,421.0 176.8,421.3 177.3,421.5 177.8,421.6 178.3,421.1 178.8,420.4 179.3,420.0 179.8,420.4 180.3,421.5 180.8,423.0 181.3,424.5 181.8,425.8 182.3,427.2 182.8,428.6 183.3,430.0 183.8,431.4 184.3,432.6 184.8,433.5 185.3,434.3 185.8,435.1 186.3,435.8 186.8,436.4 187.3,436.8 187.8,436.9 188.3,436.5 188.8,435.4 189.3,433.9 189.8,432.4 190.3,431.0 190.8,430.1 191.3,429.2 191.8,428.4 192.3,427.8 192.8,427.3 193.3,427.1 193.8,427.0 194.3,426.9 194.8,426.8 195.3,426.7 195.8,426.6 196.3,426.3 196.8,425.3 197.3,423.5 197.8,421.7 198.3,420.3 198.8,418.8 199.3,417.7 199.8,417.4 200.3,419.0 200.8,421.5 201.3,423.8 201.8,426.4 202.3,428.4 202.8,428.6 203.3,427.1 203.8,425.1 204.3,423.8 204.8,423.0 205.3,422.5 205.8,422.6 206.3,423.6 206.8,424.8 207.3,425.6 207.8,425.5 208.3,425.1 208.8,424.6 209.3,424.2 209.8,424.0 210.3,424.1 210.8,424.3 211.3,424.7 211.8,425.2 212.3,425.7 212.8,426.5 213.3,427.7 213.8,429.1 214.3,430.7 214.8,433.1 215.3,435.9 215.8,438.6 216.3,440.4 216.8,441.8 217.3,442.9 217.8,443.3 218.3,443.0 218.8,442.2 219.3,441.3 219.8,440.5 220.3,440.1 220.8,440.0 221.3,440.0 221.8,439.9 222.3,439.9 222.8,439.8 223.3,439.2 223.8,438.1 224.3,436.7 224.8,435.3 225.3,433.5 225.8,431.1 226.3,429.0 226.8,427.8 227.3,427.1 227.8,426.6 228.3,426.4 228.8,427.0 229.3,428.4 229.8,430.1 230.3,431.9 230.8,434.2 231.3,436.3 231.8,437.6 232.3,438.2 232.8,438.6 233.3,438.8 233.8,438.5 234.3,437.5 234.8,436.1 235.3,434.4 235.8,432.4 236.3,429.6 236.8,426.2 237.3,422.7 237.8,419.7 238.3,417.3 238.8,414.8 239.3,412.6 239.8,410.8 240.3,409.6 240.8,408.7 241.3,408.1 241.8,408.1 242.3,408.8 242.8,410.0 243.3,411.4 243.8,412.9 244.3,414.8 244.8,417.0 245.3,419.4 245.8,421.9 246.3,424.6 246.8,427.6 247.3,430.9 247.8,434.0 248.3,436.9 248.8,439.7 249.3,442.5 249.8,445.2 250.3,447.4 250.8,448.9 251.3,450.0 251.8,450.5 252.3,448.8 252.8,445.0 253.3,440.9 253.8,435.8 254.3,429.7 254.8,423.6 255.3,418.3 255.8,414.7 256.3,411.5 256.8,408.6 257.3,406.4 257.8,405.2 258.3,405.3 258.8,406.6 259.3,408.5 259.8,410.5 260.3,412.3 260.8,414.5 261.3,416.8 261.8,419.0 262.3,421.0 262.8,422.4 263.3,423.5 263.8,424.6 264.3,425.6 264.8,426.3 265.3,426.8 265.8,426.9 266.3,426.5 266.8,425.7 267.3,424.5 267.8,423.0 268.3,421.4 268.8,419.7 269.3,417.1 269.8,414.0 270.3,410.6 270.8,407.1 271.3,403.3 271.8,398.8 272.3,394.1 272.8,390.0 273.3,387.1 273.8,385.0 274.3,383.1 274.8,381.9 275.3,381.5 275.8,382.9 276.3,385.6 276.8,389.0 277.3,392.7 277.8,398.1 278.3,404.0 278.8,408.9 279.3,412.2 279.8,415.2 280.3,417.8 280.8,420.0 281.3,421.6 281.8,422.9 282.3,424.1 282.8,425.1 283.3,425.7 283.8,425.9 284.3,425.6 284.8,425.0 285.3,424.1 285.8,423.1 286.3,421.8 286.8,419.7 287.3,416.9 287.8,413.7 288.3,410.7 288.8,407.9 289.3,404.8 289.8,402.3 290.3,401.2 290.8,400.5 291.3,400.0 291.8,399.9 292.3,400.9 292.8,402.7 293.3,404.8 293.8,407.2 294.3,410.2 294.8,413.5 295.3,416.8 295.8,419.8 296.3,422.5 296.8,425.3 297.3,427.9 297.8,430.3 298.3,432.4 298.8,434.7 299.3,436.0 299.8,435.5 300.3,433.7 300.8,431.3 301.3,429.1 301.8,427.5 302.3,425.8 302.8,424.3 303.3,423.1 303.8,422.4 304.3,422.1 304.8,421.9 305.3,421.8 305.8,421.6 306.3,421.5 306.8,421.2 307.3,420.8 307.8,419.9 308.3,419.0 308.8,418.0 309.3,416.9 309.8,416.0 310.3,415.7 310.8,417.1 311.3,419.7 311.8,422.4 312.3,425.4 312.8,428.8 313.3,431.6 313.8,433.4 314.3,435.0 314.8,436.4 315.3,437.5 315.8,438.5 316.3,439.3 316.8,439.9 317.3,440.4 317.8,440.9 318.3,441.5 318.8,442.2 319.3,443.1 319.8,444.2 320.3,445.5 320.8,446.8 321.3,447.9 321.8,448.9 322.3,449.8 322.8,449.9 323.3,449.3 323.8,448.3 324.3,447.0 324.8,444.6 325.3,441.2 325.8,437.7 326.3,434.8 326.8,432.2 327.3,429.6 327.8,427.6 328.3,426.4 328.8,425.9 329.3,425.5 329.8,425.3 330.3,425.6 330.8,426.7 331.3,428.2 331.8,430.1 332.3,433.1 332.8,436.8 333.3,440.4 333.8,443.4 334.3,446.2 334.8,448.9 335.3,451.5 335.8,454.0 336.3,456.7 336.8,459.7 337.3,462.4 337.8,463.9 338.3,464.0 338.8,463.4 339.3,462.4 339.8,461.1 340.3,459.4 340.8,457.5 341.3,455.4 341.8,452.7 342.3,448.1 342.8,442.5 343.3,437.0 343.8,432.6 344.3,429.6 344.8,426.7 345.3,424.6 345.8,423.7 346.3,424.5 346.8,426.4 347.3,428.9 347.8,431.5 348.3,435.2 348.8,439.4 349.3,443.5 349.8,446.9 350.3,449.9 350.8,452.8 351.3,455.6 351.8,458.7 352.3,462.0 352.8,465.2 353.3,468.1 353.8,470.4 354.3,471.8 354.8,472.2 355.3,471.7 355.8,470.5 356.3,468.7 356.8,466.5 357.3,463.8 357.8,460.9 358.3,457.8 358.8,454.5 359.3,450.2 359.8,444.4 360.3,438.0 360.8,432.0 361.3,426.2 361.8,420.3 362.3,415.3 362.8,410.8 363.3,408.3 363.8,410.1 364.3,414.3 364.8,419.3 365.3,424.1 365.8,429.6 366.3,435.5 366.8,441.2 367.3,446.3 367.8,451.0 368.3,455.6 368.8,459.7 369.3,462.9 369.8,465.7 370.3,468.3 370.8,470.5 371.3,471.9 371.8,472.0 372.3,470.5 372.8,467.9 373.3,464.8 373.8,461.5 374.3,457.0 374.8,451.6 375.3,445.8 375.8,440.2 376.3,435.3 376.8,430.3 377.3,425.3 377.8,420.9 378.3,417.4 378.8,415.0 379.3,412.9 379.8,411.2 380.3,410.4 380.8,410.9 381.3,412.9 381.8,415.6 382.3,418.6 382.8,423.0 383.3,428.4 383.8,434.1 384.3,439.2 384.8,444.7 385.3,450.7 385.8,456.5 386.3,461.9 386.8,466.3 387.3,469.3 387.8,470.4 388.3,468.9 388.8,465.0 389.3,459.6 389.8,453.4 390.3,447.5 390.8,442.1 391.3,436.1 391.8,430.0 392.3,424.1 392.8,418.9 393.3,414.4 393.8,409.9 394.3,406.0 394.8,403.3 395.3,402.0 395.8,401.0 396.3,400.4 396.8,400.4 397.3,401.5 397.8,403.4 398.3,405.7 398.8,408.5 399.3,412.6 399.8,417.7 400.3,423.1 400.8,428.2 401.3,432.9 401.8,437.3 402.3,441.7 402.8,446.5 403.3,451.7 403.8,459.4 404.3,467.4 404.8,470.0 405.3,468.2 405.8,464.3 406.3,459.0 406.8,452.9 407.3,446.7 407.8,441.0 408.3,436.4 408.8,432.2 409.3,428.1 409.8,424.3 410.3,421.1 410.8,418.7 411.3,416.5 411.8,414.6 412.3,413.4 412.8,413.3 413.3,414.7 413.8,417.0 414.3,419.6 414.8,422.2 415.3,425.2 415.8,428.6 416.3,432.2 416.8,435.8 417.3,439.3 417.8,442.7 418.3,446.3 418.8,450.0 419.3,454.0 419.8,459.2 420.3,465.9 420.8,472.2 421.3,476.1 421.8,476.1 422.3,473.8 422.8,469.8 423.3,464.8 423.8,459.0 424.3,453.1 424.8,447.4 425.3,442.1 425.8,436.0 426.3,429.6 426.8,423.6 427.3,418.8 427.8,415.0 428.3,411.2 428.8,408.0 429.3,405.7 429.8,404.8 430.3,405.6 430.8,407.8 431.3,410.7 431.8,413.9 432.3,418.7 432.8,424.9 433.3,431.5 433.8,437.2 434.3,442.0 434.8,446.4 435.3,450.7 435.8,454.8 436.3,459.0 436.8,463.8 437.3,469.0 437.8,473.9 438.3,477.7 438.8,479.9 439.3,479.6 439.8,477.0 440.3,472.5 440.8,466.9 441.3,460.7 441.8,454.5 442.3,448.9 442.8,444.5 443.3,440.7 443.8,437.0 444.3,433.6 444.8,430.7 445.3,428.3 445.8,425.9 446.3,423.8 446.8,422.4 447.3,422.1 447.8,423.9 448.3,427.1 448.8,430.6 449.3,435.0 449.8,440.1 450.3,445.6 450.8,451.3 451.3,458.2 451.8,466.4 452.3,474.9 452.8,482.9 453.3,489.5 453.8,493.8 454.3,495.0 454.8,494.1 455.3,492.1 455.8,489.2 456.3,485.4 456.8,481.0 457.3,476.1 457.8,470.9 458.3,465.5 458.8,460.1 459.3,454.8 459.8,449.8 460.3,445.3 460.8,440.7 461.3,435.7 461.8,430.9 462.3,426.8 462.8,423.9 463.3,421.7 463.8,419.7 464.3,418.4 464.8,418.0 465.3,419.2 465.8,421.6 466.3,424.4 466.8,428.1 467.3,433.1 467.8,439.0 468.3,445.3 468.8,453.3 469.3,463.7 469.8,475.0 470.3,485.8 470.8,494.6 471.3,500.0 471.8,500.7 472.3,497.9 472.8,492.9 473.3,486.7 473.8,480.5 474.3,474.5 474.8,467.0 475.3,459.1 475.8,452.2 476.3,447.5 476.8,445.3 477.3,443.4 477.8,441.9 478.3,440.6 478.8,439.6 479.3,438.9 479.8,438.3 480.3,437.8 480.8,437.4 481.3,437.0 481.8,436.7 482.3,436.6 482.8,437.2 483.3,440.3 483.8,445.0 484.3,450.0 484.8,456.8 485.3,465.0 485.8,473.5 486.3,481.2 486.8,489.0 487.3,496.1 487.8,501.5 488.3,506.1 488.8,508.3 489.3,506.8 489.8,503.1 490.3,498.6 490.8,491.2 491.3,481.9 491.8,472.2 492.3,463.7 492.8,455.2 493.3,446.8 493.8,440.3 494.3,437.0 494.8,434.8 495.3,433.0 495.8,431.7 496.3,431.1 496.8,431.2 497.3,432.1 497.8,433.5 498.3,435.3 498.8,437.2 499.3,439.8 499.8,443.0 500.3,446.7 500.8,450.4 501.3,454.1 501.8,457.9 502.3,462.0 502.8,466.2 503.3,470.2 503.8,473.7 504.3,476.7 504.8,479.8 505.3,482.5 505.8,484.3 506.3,484.5 506.8,483.0 507.3,480.6 507.8,477.5 508.3,472.2 508.8,464.9 509.3,456.7 509.8,449.3 510.3,442.4 510.8,435.6 511.3,430.0 511.8,425.1 512.3,421.6 512.8,421.6 513.3,423.7 513.8,427.0 514.3,431.3 514.8,438.5 515.3,443.3 515.8,447.5 516.3,451.2 516.8,454.4 517.3,456.9 517.8,458.8 518.3,460.3 518.8,461.6 519.3,462.7 519.8,463.6 520.3,464.6 520.8,465.9 521.3,468.0 521.8,470.2 522.3,472.0 522.8,473.7 523.3,475.1 523.8,475.7 524.3,475.5 524.8,475.0 525.3,474.3 525.8,472.9 526.3,470.3 526.8,466.8 527.3,462.3 527.8,455.5 528.3,448.8 528.8,444.8 529.3,441.8 529.8,439.6 530.3,438.8 530.8,438.6 531.3,438.5 531.8,438.8 532.3,439.6 532.8,442.6 533.3,448.0 533.8,453.3 534.3,457.3 534.8,461.2 535.3,463.7 535.8,464.1 536.3,464.2 536.8,464.2 537.3,464.3 537.8,464.4 538.3,464.6 538.8,466.4 539.3,469.3 539.8,471.7 540.3,473.2 540.8,474.7 541.3,475.8 541.8,476.4 542.3,476.7 542.8,476.8 543.3,476.9 543.8,476.4 544.3,474.9 544.8,472.9 545.3,470.6 545.8,467.5 546.3,462.9 546.8,457.7 547.3,452.8 547.8,449.3 548.3,446.7 548.8,444.4 549.3,442.7 549.8,442.0 550.3,443.2 550.8,446.0 551.3,449.5 551.8,453.2 552.3,457.9 552.8,463.0 553.3,467.9 553.8,471.7 554.3,474.6 554.8,477.3 555.3,479.4 555.8,480.8 556.3,481.5 556.8,482.0 557.3,482.3 557.8,482.7 558.3,483.0 558.8,483.4 559.3,483.7 559.8,484.1 560.3,484.4 560.8,484.7 561.3,485.0 561.8,485.3 562.3,485.4 562.8,483.8 563.3,480.2 563.8,475.7 564.3,470.8 564.8,464.4 565.3,457.7 565.8,452.4 566.3,449.1 566.8,446.3 567.3,444.5 567.8,444.5 568.3,446.9 568.8,450.8 569.3,454.9 569.8,459.9 570.3,465.8 570.8,471.9 571.3,477.3 571.8,482.0 572.3,486.9 572.8,491.2 573.3,493.8 573.8,494.5 574.3,494.8 574.8,495.0 575.3,494.9 575.8,494.3 576.3,493.0 576.8,491.3 577.3,489.1 577.8,486.7 578.3,484.1 578.8,481.4 579.3,478.7 579.8,475.0 580.3,470.8 580.8,466.4 581.3,462.5 581.8,459.3 582.3,456.4 582.8,453.8 583.3,451.7 583.8,450.5 584.3,449.5 584.8,449.0 585.3,449.1 585.8,450.4 586.3,452.5 586.8,455.1 587.3,459.4 587.8,466.8 588.3,475.0 588.8,481.4 589.3,486.3 589.8,491.2 590.3,495.5 590.8,498.6 591.3,500.1 591.8,499.9 592.3,499.0 592.8,497.6 593.3,495.6 593.8,493.2 594.3,490.5 594.8,487.5 595.3,484.2 595.8,480.8 596.3,477.4 596.8,473.9 597.3,470.5 597.8,467.2 598.3,464.2 598.8,461.5 599.3,459.1 599.8,457.1 600.3,455.7 600.8,454.8 601.3,454.6 601.8,455.3 602.3,456.9 602.8,458.9 603.3,461.2 603.8,463.7 604.3,467.4 604.8,471.8 605.3,476.4 605.8,480.7 606.3,484.1 606.8,486.7 607.3,489.3 607.8,491.4 608.3,492.8 608.8,492.9 609.3,491.9 609.8,490.1 610.3,487.7 610.8,485.1 611.3,481.8 611.8,476.8 612.3,471.0 612.8,465.3 613.3,460.8 613.8,458.0 614.3,455.8 614.8,453.9 615.3,452.4 615.8,451.3 616.3,450.7 616.8,450.3 617.3,449.9 617.8,449.6 618.3,449.5 618.8,449.6 619.3,449.9 619.8,450.5 620.3,451.3 620.8,452.3 621.3,453.8 621.8,456.3 622.3,459.7 622.8,463.4 623.3,467.0 623.8,470.1 624.3,473.1 624.8,476.3 625.3,478.7 625.8,479.9 626.3,480.5 626.8,480.8 627.3,480.9 627.8,480.4 628.3,479.3 628.8,477.8 629.3,476.1 629.8,472.7 630.3,468.0 630.8,463.0 631.3,458.9 631.8,455.6 632.3,452.6 632.8,449.9 633.3,448.0 633.8,446.7 634.3,445.6 634.8,445.0 635.3,445.1 635.8,446.4 636.3,448.4 636.8,450.5 637.3,452.6 637.8,455.2 638.3,458.1 638.8,461.1 639.3,464.1 639.8,466.9 640.3,469.5 640.8,472.1 641.3,474.7 641.8,477.3 642.3,479.6 642.8,481.5 643.3,483.0 643.8,484.2 644.3,485.3 644.8,486.2 645.3,486.8 645.8,487.0 646.3,486.0 646.8,484.2 647.3,481.9 647.8,478.8 648.3,474.1 648.8,468.5 649.3,463.2 649.8,458.9 650.3,455.5 650.8,452.3 651.3,449.8 651.8,448.3 652.3,447.3 652.8,446.7 653.3,446.7 653.8,447.5 654.3,448.8 654.8,450.4 655.3,452.1 655.8,454.3 656.3,457.3 656.8,461.0 657.3,464.8 657.8,468.5 658.3,472.4 658.8,476.7 659.3,480.8 659.8,484.3 660.3,486.6 660.8,488.3 661.3,489.7 661.8,490.2 662.3,489.9 662.8,489.1 663.3,487.9 663.8,486.5 664.3,484.3 664.8,480.4 665.3,475.4 665.8,469.9 666.3,464.8 666.8,460.4 667.3,456.0 667.8,451.7 668.3,448.1 668.8,445.7 669.3,444.0 669.8,442.8 670.3,442.8 670.8,444.3 671.3,446.9 671.8,449.9 672.3,454.4 672.8,460.1 673.3,466.2 673.8,471.7 674.3,476.6 674.8,481.6 675.3,486.2 675.8,490.1 676.3,493.1 676.8,495.8 677.3,498.2 677.8,500.2 678.3,501.5 678.8,501.9 679.3,501.0 679.8,499.4 680.3,497.4 680.8,494.7 681.3,491.0 681.8,486.6 682.3,481.9 682.8,477.3 683.3,472.0 683.8,466.2 684.3,460.6 684.8,456.0 685.3,453.1 685.8,450.6 686.3,448.4 686.8,447.0 687.3,446.4 687.8,447.3 688.3,449.4 688.8,452.3 689.3,455.4 689.8,459.9 690.3,465.3 690.8,470.8 691.3,475.8 691.8,480.9 692.3,486.0 692.8,490.5 693.3,493.8 693.8,495.8 694.3,497.5 694.8,499.0 695.3,499.9 695.8,500.3 696.3,499.6 696.8,497.9 697.3,495.7 697.8,493.1 698.3,489.4 698.8,484.7 699.3,479.7 699.8,474.9 700.3,470.0 700.8,464.7 701.3,459.5 701.8,454.9 702.3,451.4 702.8,449.0 703.3,446.8 703.8,445.0 704.3,443.8 704.8,443.6 705.3,445.3 705.8,448.6 706.3,452.5 706.8,457.8 707.3,464.9 707.8,472.2 708.3,478.2 708.8,483.1 709.3,487.7 709.8,491.5 710.3,493.9 710.8,495.1 711.3,495.9 711.8,496.3 712.3,496.3 712.8,496.3 713.3,496.2 713.8,495.9 714.0,495.8"/>
<text class="t" x="68.6" y="344.6" text-anchor="end">25000</text>
<text class="t" x="68.6" y="385.8" text-anchor="end">20000</text>
<text class="t" x="68.6" y="426.9" text-anchor="end">15000</text>
<text class="t" x="68.6" y="468.1" text-anchor="end">10000</text>
<text class="t" x="68.6" y="509.2" text-anchor="end">5000</text>
<text class="t" x="68.6" y="550.4" text-anchor="end">0</text>
<text class="t" x="82.5" y="568.9" text-anchor="middle">0</text>
<text class="t" x="199.2" y="568.9" text-anchor="middle">0.1</text>
<text class="t" x="316.0" y="568.9" text-anchor="middle">0.2</text>
<text class="t" x="432.7" y="568.9" text-anchor="middle">0.3</text>
<text class="t" x="549.4" y="568.9" text-anchor="middle">0.4</text>
<text class="t" x="666.1" y="568.9" text-anchor="middle">0.5</text>
<text class="t" x="782.9" y="568.9" text-anchor="middle">0.6</text>
<text class="ax" x="434.1" y="593.0" text-anchor="middle">t (s)</text>
<text class="cap" x="433.9" y="617.4" text-anchor="middle">(b)</text>
<text class="ax" transform="translate(12.8,441.6) rotate(-90) scale(0.985,1)" text-anchor="middle">Energy (J)</text>
<rect x="244.5" y="1.7" width="328.8" height="28.5" fill="#fff" stroke="#000" stroke-width="1.5"/>
<line x1="267.5" y1="16" x2="302.5" y2="16" stroke="#002060" stroke-width="2"/>
<text class="t" x="307" y="20.6">Without damper</text>
<line x1="433.3" y1="16" x2="468.3" y2="16" stroke="#ff0000" stroke-width="2"/>
<text class="t" x="472.5" y="20.6">With damper</text>
</svg></body></html>
